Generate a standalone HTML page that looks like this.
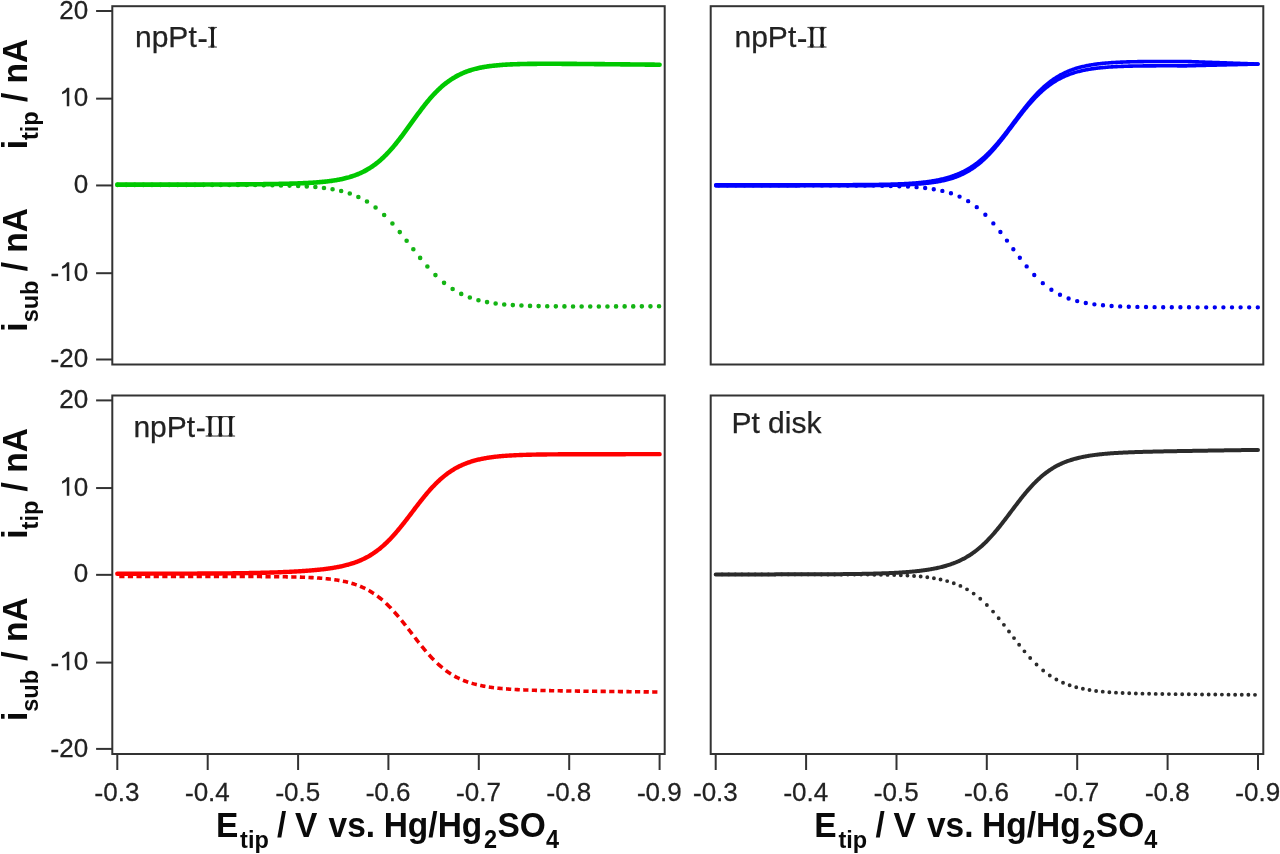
<!DOCTYPE html><html><head><meta charset="utf-8"><style>html,body{margin:0;padding:0;background:#fff;width:1280px;height:854px;overflow:hidden}svg{display:block;filter:blur(0.4px)}text{font-family:"Liberation Sans",sans-serif;stroke:#222;stroke-width:0.25px}g.b text{stroke:none}</style></head><body>
<svg width="1280" height="854" viewBox="0 0 1280 854">
<rect width="1280" height="854" fill="#fff"/>
<path d="M659.04,306.32h0 M650.44,306.34h0 M641.84,306.36h0 M633.24,306.38h0 M624.64,306.40h0 M616.04,306.42h0 M607.44,306.43h0 M598.84,306.44h0 M590.24,306.45h0 M581.64,306.44h0 M573.04,306.43h0 M564.44,306.39h0 M555.84,306.34h0 M547.24,306.24h0 M538.64,306.10h0 M530.04,305.88h0 M521.44,305.57h0 M512.84,305.10h0 M504.24,304.43h0 M495.64,303.47h0 M487.04,302.11h0 M478.44,300.20h0 M469.84,297.53h0 M461.24,293.90h0 M452.64,289.07h0 M444.04,282.84h0 M435.44,275.09h0 M427.38,266.50h0 M420.15,257.90h0 M413.34,249.30h0 M406.64,240.70h0 M399.77,232.10h0 M392.42,223.50h0 M384.17,214.95h0 M375.57,207.50h0 M366.97,201.56h0 M358.37,196.99h0 M349.77,193.57h0 M341.17,191.06h0 M332.57,189.25h0 M323.97,187.95h0 M315.37,187.03h0 M306.77,186.39h0 M298.17,185.93h0 M289.57,185.61h0 M280.97,185.39h0 M272.37,185.23h0 M263.77,185.13h0 M255.17,185.05h0 M246.57,185.00h0 M237.97,184.96h0 M229.37,184.94h0 M220.77,184.92h0 M212.17,184.91h0 M203.57,184.90h0 M194.97,184.89h0 M186.37,184.89h0 M177.77,184.88h0 M169.17,184.88h0 M160.57,184.88h0 M151.97,184.88h0 M143.37,184.88h0 M134.77,184.88h0 M126.17,184.88h0 M117.57,184.88h0" fill="none" stroke="#14b414" stroke-width="4.6" stroke-linecap="round"/>
<path d="M117.30,184.65 L118.20,184.65 L119.11,184.65 L120.01,184.65 L120.92,184.65 L121.82,184.65 L122.72,184.65 L123.63,184.65 L124.53,184.65 L125.43,184.65 L126.34,184.65 L127.24,184.65 L128.15,184.65 L129.05,184.65 L129.95,184.65 L130.86,184.65 L131.76,184.65 L132.66,184.65 L133.57,184.65 L134.47,184.65 L135.38,184.65 L136.28,184.65 L137.18,184.65 L138.09,184.65 L138.99,184.65 L139.90,184.65 L140.80,184.65 L141.70,184.65 L142.61,184.65 L143.51,184.65 L144.41,184.64 L145.32,184.64 L146.22,184.64 L147.13,184.64 L148.03,184.64 L148.93,184.64 L149.84,184.64 L150.74,184.64 L151.64,184.64 L152.55,184.64 L153.45,184.64 L154.36,184.64 L155.26,184.64 L156.16,184.64 L157.07,184.64 L157.97,184.64 L158.87,184.64 L159.78,184.64 L160.68,184.64 L161.59,184.63 L162.49,184.63 L163.39,184.63 L164.30,184.63 L165.20,184.63 L166.11,184.63 L167.01,184.63 L167.91,184.63 L168.82,184.63 L169.72,184.63 L170.62,184.63 L171.53,184.63 L172.43,184.63 L173.34,184.62 L174.24,184.62 L175.14,184.62 L176.05,184.62 L176.95,184.62 L177.85,184.62 L178.76,184.62 L179.66,184.62 L180.57,184.62 L181.47,184.61 L182.37,184.61 L183.28,184.61 L184.18,184.61 L185.09,184.61 L185.99,184.61 L186.89,184.61 L187.80,184.60 L188.70,184.60 L189.60,184.60 L190.51,184.60 L191.41,184.60 L192.32,184.60 L193.22,184.59 L194.12,184.59 L195.03,184.59 L195.93,184.59 L196.83,184.59 L197.74,184.58 L198.64,184.58 L199.55,184.58 L200.45,184.58 L201.35,184.58 L202.26,184.57 L203.16,184.57 L204.06,184.57 L204.97,184.57 L205.87,184.56 L206.78,184.56 L207.68,184.56 L208.58,184.56 L209.49,184.55 L210.39,184.55 L211.30,184.55 L212.20,184.54 L213.10,184.54 L214.01,184.54 L214.91,184.53 L215.81,184.53 L216.72,184.53 L217.62,184.52 L218.53,184.52 L219.43,184.52 L220.33,184.51 L221.24,184.51 L222.14,184.50 L223.04,184.50 L223.95,184.50 L224.85,184.49 L225.76,184.49 L226.66,184.48 L227.56,184.48 L228.47,184.47 L229.37,184.47 L230.28,184.46 L231.18,184.46 L232.08,184.45 L232.99,184.45 L233.89,184.44 L234.79,184.44 L235.70,184.43 L236.60,184.42 L237.51,184.42 L238.41,184.41 L239.31,184.40 L240.22,184.40 L241.12,184.39 L242.02,184.38 L242.93,184.38 L243.83,184.37 L244.74,184.36 L245.64,184.36 L246.54,184.35 L247.45,184.34 L248.35,184.33 L249.25,184.32 L250.16,184.32 L251.06,184.31 L251.97,184.30 L252.87,184.29 L253.77,184.28 L254.68,184.27 L255.58,184.26 L256.49,184.25 L257.39,184.24 L258.29,184.23 L259.20,184.22 L260.10,184.21 L261.00,184.20 L261.91,184.19 L262.81,184.18 L263.72,184.16 L264.62,184.15 L265.52,184.14 L266.43,184.13 L267.33,184.11 L268.23,184.10 L269.14,184.09 L270.04,184.07 L270.95,184.06 L271.85,184.04 L272.75,184.03 L273.66,184.01 L274.56,184.00 L275.46,183.98 L276.37,183.97 L277.27,183.95 L278.18,183.93 L279.08,183.91 L279.98,183.89 L280.89,183.88 L281.79,183.86 L282.70,183.84 L283.60,183.82 L284.50,183.80 L285.41,183.77 L286.31,183.75 L287.21,183.73 L288.12,183.71 L289.02,183.68 L289.93,183.66 L290.83,183.63 L291.73,183.60 L292.64,183.58 L293.54,183.55 L294.44,183.52 L295.35,183.49 L296.25,183.46 L297.16,183.43 L298.06,183.39 L298.96,183.36 L299.87,183.33 L300.77,183.29 L301.68,183.25 L302.58,183.21 L303.48,183.17 L304.39,183.13 L305.29,183.09 L306.19,183.04 L307.10,183.00 L308.00,182.95 L308.91,182.90 L309.81,182.85 L310.71,182.80 L311.62,182.74 L312.52,182.69 L313.42,182.63 L314.33,182.57 L315.23,182.50 L316.14,182.44 L317.04,182.37 L317.94,182.30 L318.85,182.23 L319.75,182.15 L320.66,182.07 L321.56,181.99 L322.46,181.90 L323.37,181.82 L324.27,181.72 L325.17,181.63 L326.08,181.53 L326.98,181.43 L327.89,181.32 L328.79,181.21 L329.69,181.09 L330.60,180.98 L331.50,180.85 L332.40,180.72 L333.31,180.59 L334.21,180.45 L335.12,180.31 L336.02,180.16 L336.92,180.00 L337.83,179.84 L338.73,179.67 L339.63,179.50 L340.54,179.32 L341.44,179.13 L342.35,178.93 L343.25,178.73 L344.15,178.52 L345.06,178.30 L345.96,178.08 L346.87,177.84 L347.77,177.60 L348.67,177.35 L349.58,177.09 L350.48,176.81 L351.38,176.53 L352.29,176.24 L353.19,175.94 L354.10,175.62 L355.00,175.30 L355.90,174.96 L356.81,174.61 L357.71,174.25 L358.61,173.88 L359.52,173.49 L360.42,173.09 L361.33,172.68 L362.23,172.25 L363.13,171.80 L364.04,171.35 L364.94,170.87 L365.84,170.38 L366.75,169.88 L367.65,169.36 L368.56,168.82 L369.46,168.27 L370.36,167.69 L371.27,167.10 L372.17,166.50 L373.08,165.87 L373.98,165.23 L374.88,164.56 L375.79,163.88 L376.69,163.18 L377.59,162.46 L378.50,161.72 L379.40,160.96 L380.31,160.18 L381.21,159.38 L382.11,158.56 L383.02,157.72 L383.92,156.86 L384.82,155.98 L385.73,155.08 L386.63,154.16 L387.54,153.22 L388.44,152.26 L389.34,151.28 L390.25,150.29 L391.15,149.27 L392.06,148.24 L392.96,147.18 L393.86,146.12 L394.77,145.03 L395.67,143.93 L396.57,142.81 L397.48,141.68 L398.38,140.53 L399.29,139.37 L400.19,138.20 L401.09,137.01 L402.00,135.81 L402.90,134.61 L403.80,133.39 L404.71,132.16 L405.61,130.93 L406.52,129.69 L407.42,128.45 L408.32,127.20 L409.23,125.95 L410.13,124.69 L411.04,123.44 L411.94,122.18 L412.84,120.93 L413.75,119.67 L414.65,118.42 L415.55,117.18 L416.46,115.94 L417.36,114.71 L418.27,113.48 L419.17,112.26 L420.07,111.05 L420.98,109.85 L421.88,108.66 L422.78,107.49 L423.69,106.33 L424.59,105.18 L425.50,104.04 L426.40,102.92 L427.30,101.81 L428.21,100.73 L429.11,99.65 L430.01,98.60 L430.92,97.56 L431.82,96.54 L432.73,95.54 L433.63,94.56 L434.53,93.60 L435.44,92.66 L436.34,91.73 L437.25,90.83 L438.15,89.95 L439.05,89.08 L439.96,88.24 L440.86,87.42 L441.76,86.61 L442.67,85.83 L443.57,85.07 L444.48,84.32 L445.38,83.60 L446.28,82.90 L447.19,82.21 L448.09,81.55 L448.99,80.90 L449.90,80.27 L450.80,79.66 L451.71,79.07 L452.61,78.49 L453.51,77.94 L454.42,77.40 L455.32,76.87 L456.23,76.37 L457.13,75.88 L458.03,75.40 L458.94,74.94 L459.84,74.50 L460.74,74.07 L461.65,73.65 L462.55,73.25 L463.46,72.86 L464.36,72.49 L465.26,72.12 L466.17,71.77 L467.07,71.44 L467.97,71.11 L468.88,70.80 L469.78,70.49 L470.69,70.20 L471.59,69.92 L472.49,69.65 L473.40,69.39 L474.30,69.14 L475.20,68.89 L476.11,68.66 L477.01,68.43 L477.92,68.22 L478.82,68.01 L479.72,67.81 L480.63,67.63 L481.53,67.45 L482.44,67.28 L483.34,67.12 L484.24,66.96 L485.15,66.81 L486.05,66.67 L486.95,66.53 L487.86,66.40 L488.76,66.27 L489.67,66.15 L490.57,66.03 L491.47,65.92 L492.38,65.81 L493.28,65.71 L494.18,65.61 L495.09,65.52 L495.99,65.43 L496.90,65.34 L497.80,65.26 L498.70,65.18 L499.61,65.10 L500.51,65.03 L501.42,64.96 L502.32,64.90 L503.22,64.83 L504.13,64.77 L505.03,64.71 L505.93,64.66 L506.84,64.61 L507.74,64.56 L508.65,64.51 L509.55,64.47 L510.45,64.42 L511.36,64.38 L512.26,64.34 L513.16,64.31 L514.07,64.27 L514.97,64.24 L515.88,64.21 L516.78,64.18 L517.68,64.15 L518.59,64.12 L519.49,64.10 L520.39,64.07 L521.30,64.05 L522.20,64.03 L523.11,64.01 L524.01,63.99 L524.91,63.97 L525.82,63.95 L526.72,63.94 L527.63,63.92 L528.53,63.91 L529.43,63.90 L530.34,63.89 L531.24,63.88 L532.14,63.86 L533.05,63.86 L533.95,63.85 L534.86,63.84 L535.76,63.83 L536.66,63.83 L537.57,63.82 L538.47,63.81 L539.37,63.81 L540.28,63.81 L541.18,63.80 L542.09,63.80 L542.99,63.80 L543.89,63.79 L544.80,63.79 L545.70,63.79 L546.61,63.79 L547.51,63.79 L548.41,63.79 L549.32,63.79 L550.22,63.79 L551.12,63.79 L552.03,63.79 L552.93,63.80 L553.84,63.80 L554.74,63.80 L555.64,63.80 L556.55,63.81 L557.45,63.81 L558.35,63.81 L559.26,63.82 L560.16,63.82 L561.07,63.82 L561.97,63.83 L562.87,63.83 L563.78,63.84 L564.68,63.84 L565.58,63.85 L566.49,63.85 L567.39,63.86 L568.30,63.87 L569.20,63.87 L570.10,63.88 L571.01,63.88 L571.91,63.89 L572.82,63.90 L573.72,63.90 L574.62,63.91 L575.53,63.92 L576.43,63.92 L577.33,63.93 L578.24,63.94 L579.14,63.94 L580.05,63.95 L580.95,63.96 L581.85,63.97 L582.76,63.97 L583.66,63.98 L584.56,63.99 L585.47,64.00 L586.37,64.00 L587.28,64.01 L588.18,64.02 L589.08,64.03 L589.99,64.03 L590.89,64.04 L591.80,64.05 L592.70,64.06 L593.60,64.07 L594.51,64.08 L595.41,64.08 L596.31,64.09 L597.22,64.10 L598.12,64.11 L599.03,64.12 L599.93,64.13 L600.83,64.13 L601.74,64.14 L602.64,64.15 L603.54,64.16 L604.45,64.17 L605.35,64.18 L606.26,64.19 L607.16,64.20 L608.06,64.20 L608.97,64.21 L609.87,64.22 L610.77,64.23 L611.68,64.24 L612.58,64.25 L613.49,64.26 L614.39,64.27 L615.29,64.27 L616.20,64.28 L617.10,64.29 L618.01,64.30 L618.91,64.31 L619.81,64.32 L620.72,64.33 L621.62,64.34 L622.52,64.35 L623.43,64.36 L624.33,64.37 L625.24,64.37 L626.14,64.38 L627.04,64.39 L627.95,64.40 L628.85,64.41 L629.75,64.42 L630.66,64.43 L631.56,64.44 L632.47,64.45 L633.37,64.46 L634.27,64.47 L635.18,64.48 L636.08,64.48 L636.98,64.49 L637.89,64.50 L638.79,64.51 L639.70,64.52 L640.60,64.53 L641.50,64.54 L642.41,64.55 L643.31,64.56 L644.22,64.57 L645.12,64.58 L646.02,64.59 L646.93,64.60 L647.83,64.60 L648.73,64.61 L649.64,64.62 L650.54,64.63 L651.45,64.64 L652.35,64.65 L653.25,64.66 L654.16,64.67 L655.06,64.68 L655.96,64.69 L656.87,64.70 L657.77,64.71 L658.68,64.72 L659.58,64.73" fill="none" stroke="#00c800" stroke-width="4.6" stroke-linecap="round" stroke-linejoin="round"/>
<path d="M1257.80,307.36h0 M1249.20,307.36h0 M1240.60,307.36h0 M1232.00,307.35h0 M1223.40,307.35h0 M1214.80,307.35h0 M1206.20,307.34h0 M1197.60,307.33h0 M1189.00,307.31h0 M1180.40,307.29h0 M1171.80,307.26h0 M1163.20,307.21h0 M1154.60,307.15h0 M1146.00,307.05h0 M1137.40,306.90h0 M1128.80,306.69h0 M1120.20,306.39h0 M1111.60,305.94h0 M1103.00,305.29h0 M1094.40,304.36h0 M1085.80,303.02h0 M1077.20,301.11h0 M1068.60,298.43h0 M1060.00,294.72h0 M1051.40,289.71h0 M1042.80,283.16h0 M1034.26,274.99h0 M1026.66,266.39h0 M1019.82,257.79h0 M1013.35,249.19h0 M1006.96,240.59h0 M1000.40,231.99h0 M993.35,223.39h0 M985.36,214.80h0 M976.76,207.14h0 M968.16,201.14h0 M959.56,196.60h0 M950.96,193.27h0 M942.36,190.88h0 M933.76,189.18h0 M925.16,188.00h0 M916.56,187.17h0 M907.96,186.60h0 M899.36,186.21h0 M890.76,185.94h0 M882.16,185.75h0 M873.56,185.62h0 M864.96,185.54h0 M856.36,185.48h0 M847.76,185.44h0 M839.16,185.41h0 M830.56,185.39h0 M821.96,185.38h0 M813.36,185.37h0 M804.76,185.36h0 M796.16,185.36h0 M787.56,185.36h0 M778.96,185.35h0 M770.36,185.35h0 M761.76,185.35h0 M753.16,185.35h0 M744.56,185.35h0 M735.96,185.35h0 M727.36,185.35h0 M718.76,185.35h0" fill="none" stroke="#0000f0" stroke-width="4.4" stroke-linecap="round"/>
<path d="M715.70,184.79 L716.60,184.79 L717.51,184.79 L718.41,184.79 L719.32,184.79 L720.22,184.79 L721.12,184.79 L722.03,184.79 L722.93,184.79 L723.83,184.79 L724.74,184.79 L725.64,184.79 L726.55,184.79 L727.45,184.79 L728.35,184.79 L729.26,184.79 L730.16,184.79 L731.06,184.79 L731.97,184.79 L732.87,184.79 L733.78,184.79 L734.68,184.79 L735.58,184.79 L736.49,184.79 L737.39,184.79 L738.29,184.79 L739.20,184.79 L740.10,184.79 L741.01,184.79 L741.91,184.79 L742.81,184.79 L743.72,184.79 L744.62,184.79 L745.53,184.79 L746.43,184.79 L747.33,184.79 L748.24,184.79 L749.14,184.79 L750.04,184.79 L750.95,184.79 L751.85,184.79 L752.76,184.79 L753.66,184.79 L754.56,184.79 L755.47,184.79 L756.37,184.79 L757.27,184.79 L758.18,184.79 L759.08,184.79 L759.99,184.79 L760.89,184.79 L761.79,184.79 L762.70,184.79 L763.60,184.79 L764.51,184.79 L765.41,184.79 L766.31,184.79 L767.22,184.79 L768.12,184.79 L769.02,184.79 L769.93,184.79 L770.83,184.79 L771.74,184.79 L772.64,184.79 L773.54,184.79 L774.45,184.79 L775.35,184.79 L776.25,184.79 L777.16,184.79 L778.06,184.79 L778.97,184.79 L779.87,184.79 L780.77,184.79 L781.68,184.79 L782.58,184.79 L783.49,184.79 L784.39,184.78 L785.29,184.78 L786.20,184.78 L787.10,184.78 L788.00,184.78 L788.91,184.78 L789.81,184.78 L790.72,184.78 L791.62,184.78 L792.52,184.78 L793.43,184.78 L794.33,184.78 L795.23,184.78 L796.14,184.78 L797.04,184.78 L797.95,184.78 L798.85,184.78 L799.75,184.78 L800.66,184.78 L801.56,184.78 L802.46,184.78 L803.37,184.78 L804.27,184.78 L805.18,184.78 L806.08,184.78 L806.98,184.78 L807.89,184.77 L808.79,184.77 L809.70,184.77 L810.60,184.77 L811.50,184.77 L812.41,184.77 L813.31,184.77 L814.21,184.77 L815.12,184.77 L816.02,184.77 L816.93,184.77 L817.83,184.77 L818.73,184.76 L819.64,184.76 L820.54,184.76 L821.44,184.76 L822.35,184.76 L823.25,184.76 L824.16,184.76 L825.06,184.76 L825.96,184.75 L826.87,184.75 L827.77,184.75 L828.67,184.75 L829.58,184.75 L830.48,184.75 L831.39,184.75 L832.29,184.74 L833.19,184.74 L834.10,184.74 L835.00,184.74 L835.91,184.74 L836.81,184.73 L837.71,184.73 L838.62,184.73 L839.52,184.73 L840.42,184.72 L841.33,184.72 L842.23,184.72 L843.14,184.71 L844.04,184.71 L844.94,184.71 L845.85,184.70 L846.75,184.70 L847.65,184.70 L848.56,184.69 L849.46,184.69 L850.37,184.69 L851.27,184.68 L852.17,184.68 L853.08,184.67 L853.98,184.67 L854.89,184.66 L855.79,184.66 L856.69,184.65 L857.60,184.65 L858.50,184.64 L859.40,184.63 L860.31,184.63 L861.21,184.62 L862.12,184.61 L863.02,184.61 L863.92,184.60 L864.83,184.59 L865.73,184.58 L866.63,184.57 L867.54,184.57 L868.44,184.56 L869.35,184.55 L870.25,184.54 L871.15,184.53 L872.06,184.52 L872.96,184.51 L873.87,184.49 L874.77,184.48 L875.67,184.47 L876.58,184.46 L877.48,184.44 L878.38,184.43 L879.29,184.41 L880.19,184.40 L881.10,184.38 L882.00,184.36 L882.90,184.35 L883.81,184.33 L884.71,184.31 L885.61,184.29 L886.52,184.27 L887.42,184.25 L888.33,184.23 L889.23,184.20 L890.13,184.18 L891.04,184.15 L891.94,184.13 L892.84,184.10 L893.75,184.07 L894.65,184.04 L895.56,184.01 L896.46,183.98 L897.36,183.95 L898.27,183.91 L899.17,183.88 L900.08,183.84 L900.98,183.80 L901.88,183.76 L902.79,183.72 L903.69,183.68 L904.59,183.63 L905.50,183.59 L906.40,183.54 L907.31,183.49 L908.21,183.43 L909.11,183.38 L910.02,183.32 L910.92,183.26 L911.82,183.20 L912.73,183.14 L913.63,183.07 L914.54,183.00 L915.44,182.93 L916.34,182.85 L917.25,182.77 L918.15,182.69 L919.06,182.61 L919.96,182.52 L920.86,182.43 L921.77,182.34 L922.67,182.24 L923.57,182.14 L924.48,182.04 L925.38,181.93 L926.29,181.81 L927.19,181.70 L928.09,181.58 L929.00,181.45 L929.90,181.32 L930.80,181.18 L931.71,181.04 L932.61,180.90 L933.52,180.75 L934.42,180.59 L935.32,180.43 L936.23,180.26 L937.13,180.09 L938.03,179.91 L938.94,179.72 L939.84,179.53 L940.75,179.33 L941.65,179.12 L942.55,178.91 L943.46,178.69 L944.36,178.46 L945.27,178.22 L946.17,177.98 L947.07,177.73 L947.98,177.47 L948.88,177.20 L949.78,176.92 L950.69,176.63 L951.59,176.33 L952.50,176.03 L953.40,175.71 L954.30,175.39 L955.21,175.05 L956.11,174.70 L957.01,174.34 L957.92,173.97 L958.82,173.59 L959.73,173.20 L960.63,172.79 L961.53,172.37 L962.44,171.94 L963.34,171.50 L964.24,171.04 L965.15,170.57 L966.05,170.09 L966.96,169.59 L967.86,169.08 L968.76,168.55 L969.67,168.00 L970.57,167.45 L971.48,166.87 L972.38,166.28 L973.28,165.68 L974.19,165.06 L975.09,164.42 L975.99,163.76 L976.90,163.09 L977.80,162.40 L978.71,161.69 L979.61,160.97 L980.51,160.23 L981.42,159.47 L982.32,158.69 L983.22,157.89 L984.13,157.08 L985.03,156.25 L985.94,155.40 L986.84,154.53 L987.74,153.65 L988.65,152.75 L989.55,151.83 L990.46,150.89 L991.36,149.94 L992.26,148.96 L993.17,147.98 L994.07,146.97 L994.97,145.95 L995.88,144.92 L996.78,143.87 L997.69,142.81 L998.59,141.73 L999.49,140.64 L1000.40,139.53 L1001.30,138.41 L1002.20,137.29 L1003.11,136.15 L1004.01,135.00 L1004.92,133.84 L1005.82,132.67 L1006.72,131.49 L1007.63,130.31 L1008.53,129.12 L1009.43,127.93 L1010.34,126.73 L1011.24,125.53 L1012.15,124.32 L1013.05,123.12 L1013.95,121.91 L1014.86,120.70 L1015.76,119.50 L1016.67,118.29 L1017.57,117.09 L1018.47,115.90 L1019.38,114.70 L1020.28,113.52 L1021.18,112.34 L1022.09,111.16 L1022.99,110.00 L1023.90,108.84 L1024.80,107.70 L1025.70,106.56 L1026.61,105.44 L1027.51,104.33 L1028.41,103.23 L1029.32,102.14 L1030.22,101.07 L1031.13,100.01 L1032.03,98.97 L1032.93,97.94 L1033.84,96.93 L1034.74,95.93 L1035.65,94.95 L1036.55,93.99 L1037.45,93.04 L1038.36,92.11 L1039.26,91.20 L1040.16,90.31 L1041.07,89.44 L1041.97,88.58 L1042.88,87.74 L1043.78,86.92 L1044.68,86.12 L1045.59,85.34 L1046.49,84.57 L1047.39,83.82 L1048.30,83.09 L1049.20,82.38 L1050.11,81.69 L1051.01,81.01 L1051.91,80.36 L1052.82,79.72 L1053.72,79.09 L1054.62,78.49 L1055.53,77.90 L1056.43,77.32 L1057.34,76.77 L1058.24,76.23 L1059.14,75.70 L1060.05,75.19 L1060.95,74.70 L1061.86,74.22 L1062.76,73.75 L1063.66,73.30 L1064.57,72.86 L1065.47,72.44 L1066.37,72.03 L1067.28,71.63 L1068.18,71.24 L1069.09,70.87 L1069.99,70.51 L1070.89,70.16 L1071.80,69.82 L1072.70,69.50 L1073.60,69.18 L1074.51,68.88 L1075.41,68.58 L1076.32,68.30 L1077.22,68.02 L1078.12,67.76 L1079.03,67.51 L1079.93,67.26 L1080.84,67.03 L1081.74,66.81 L1082.64,66.59 L1083.55,66.38 L1084.45,66.18 L1085.35,65.98 L1086.26,65.80 L1087.16,65.62 L1088.07,65.44 L1088.97,65.28 L1089.87,65.11 L1090.78,64.96 L1091.68,64.81 L1092.58,64.67 L1093.49,64.53 L1094.39,64.39 L1095.30,64.27 L1096.20,64.14 L1097.10,64.02 L1098.01,63.91 L1098.91,63.80 L1099.82,63.70 L1100.72,63.60 L1101.62,63.50 L1102.53,63.40 L1103.43,63.31 L1104.33,63.23 L1105.24,63.15 L1106.14,63.07 L1107.05,62.99 L1107.95,62.92 L1108.85,62.85 L1109.76,62.78 L1110.66,62.71 L1111.56,62.65 L1112.47,62.59 L1113.37,62.54 L1114.28,62.48 L1115.18,62.43 L1116.08,62.38 L1116.99,62.33 L1117.89,62.28 L1118.79,62.24 L1119.70,62.20 L1120.60,62.16 L1121.51,62.12 L1122.41,62.08 L1123.31,62.05 L1124.22,62.01 L1125.12,61.98 L1126.03,61.95 L1126.93,61.92 L1127.83,61.89 L1128.74,61.87 L1129.64,61.84 L1130.54,61.82 L1131.45,61.79 L1132.35,61.77 L1133.26,61.75 L1134.16,61.73 L1135.06,61.71 L1135.97,61.69 L1136.87,61.68 L1137.77,61.66 L1138.68,61.64 L1139.58,61.63 L1140.49,61.62 L1141.39,61.60 L1142.29,61.59 L1143.20,61.58 L1144.10,61.57 L1145.01,61.56 L1145.91,61.55 L1146.81,61.54 L1147.72,61.53 L1148.62,61.52 L1149.52,61.52 L1150.43,61.51 L1151.33,61.50 L1152.24,61.50 L1153.14,61.49 L1154.04,61.49 L1154.95,61.48 L1155.85,61.48 L1156.75,61.47 L1157.66,61.47 L1158.56,61.47 L1159.47,61.46 L1160.37,61.46 L1161.27,61.46 L1162.18,61.46 L1163.08,61.46 L1163.98,61.45 L1164.89,61.45 L1165.79,61.45 L1166.70,61.45 L1167.60,61.45 L1168.50,61.45 L1169.41,61.45 L1170.31,61.45 L1171.22,61.45 L1172.12,61.45 L1173.02,61.46 L1173.93,61.46 L1174.83,61.46 L1175.73,61.46 L1176.64,61.46 L1177.54,61.46 L1178.45,61.47 L1179.35,61.47 L1180.25,61.47 L1181.16,61.47 L1182.06,61.48 L1182.96,61.48 L1183.87,61.48 L1184.77,61.48 L1185.68,61.49 L1186.58,61.52 L1187.48,61.55 L1188.39,61.58 L1189.29,61.61 L1190.20,61.64 L1191.10,61.67 L1192.00,61.70 L1192.91,61.73 L1193.81,61.76 L1194.71,61.80 L1195.62,61.83 L1196.52,61.86 L1197.43,61.89 L1198.33,61.92 L1199.23,61.95 L1200.14,61.98 L1201.04,62.02 L1201.94,62.05 L1202.85,62.08 L1203.75,62.11 L1204.66,62.14 L1205.56,62.18 L1206.46,62.21 L1207.37,62.24 L1208.27,62.27 L1209.17,62.30 L1210.08,62.34 L1210.98,62.37 L1211.89,62.40 L1212.79,62.43 L1213.69,62.46 L1214.60,62.50 L1215.50,62.53 L1216.41,62.56 L1217.31,62.59 L1218.21,62.63 L1219.12,62.66 L1220.02,62.69 L1220.92,62.72 L1221.83,62.76 L1222.73,62.79 L1223.64,62.82 L1224.54,62.85 L1225.44,62.89 L1226.35,62.92 L1227.25,62.95 L1228.15,62.98 L1229.06,63.02 L1229.96,63.05 L1230.87,63.08 L1231.77,63.12 L1232.67,63.15 L1233.58,63.18 L1234.48,63.21 L1235.38,63.25 L1236.29,63.28 L1237.19,63.31 L1238.10,63.34 L1239.00,63.38 L1239.90,63.41 L1240.81,63.44 L1241.71,63.48 L1242.62,63.51 L1243.52,63.54 L1244.42,63.57 L1245.33,63.61 L1246.23,63.64 L1247.13,63.67 L1248.04,63.71 L1248.94,63.74 L1249.85,63.77 L1250.75,63.80 L1251.65,63.84 L1252.56,63.87 L1253.46,63.90 L1254.36,63.94 L1255.27,63.97 L1256.17,64.00 L1257.08,64.04 L1257.98,64.07" fill="none" stroke="#0000ff" stroke-width="3.6" stroke-linecap="round" stroke-linejoin="round"/>
<path d="M715.70,185.84 L716.60,185.84 L717.51,185.84 L718.41,185.84 L719.32,185.84 L720.22,185.84 L721.12,185.84 L722.03,185.84 L722.93,185.84 L723.83,185.84 L724.74,185.84 L725.64,185.84 L726.55,185.84 L727.45,185.84 L728.35,185.84 L729.26,185.84 L730.16,185.84 L731.06,185.84 L731.97,185.84 L732.87,185.84 L733.78,185.84 L734.68,185.84 L735.58,185.84 L736.49,185.84 L737.39,185.84 L738.29,185.84 L739.20,185.84 L740.10,185.84 L741.01,185.84 L741.91,185.84 L742.81,185.84 L743.72,185.84 L744.62,185.84 L745.53,185.84 L746.43,185.84 L747.33,185.84 L748.24,185.84 L749.14,185.84 L750.04,185.84 L750.95,185.84 L751.85,185.84 L752.76,185.83 L753.66,185.83 L754.56,185.83 L755.47,185.83 L756.37,185.83 L757.27,185.83 L758.18,185.83 L759.08,185.83 L759.99,185.83 L760.89,185.83 L761.79,185.83 L762.70,185.83 L763.60,185.83 L764.51,185.83 L765.41,185.83 L766.31,185.83 L767.22,185.83 L768.12,185.83 L769.02,185.83 L769.93,185.83 L770.83,185.83 L771.74,185.83 L772.64,185.83 L773.54,185.83 L774.45,185.83 L775.35,185.83 L776.25,185.83 L777.16,185.83 L778.06,185.83 L778.97,185.83 L779.87,185.83 L780.77,185.83 L781.68,185.83 L782.58,185.83 L783.49,185.83 L784.39,185.83 L785.29,185.83 L786.20,185.83 L787.10,185.83 L788.00,185.83 L788.91,185.83 L789.81,185.83 L790.72,185.83 L791.62,185.83 L792.52,185.83 L793.43,185.83 L794.33,185.83 L795.23,185.83 L796.14,185.83 L797.04,185.83 L797.95,185.83 L798.85,185.83 L799.75,185.83 L800.66,185.82 L801.56,185.82 L802.46,185.82 L803.37,185.82 L804.27,185.82 L805.18,185.82 L806.08,185.82 L806.98,185.82 L807.89,185.82 L808.79,185.82 L809.70,185.82 L810.60,185.82 L811.50,185.82 L812.41,185.82 L813.31,185.82 L814.21,185.82 L815.12,185.81 L816.02,185.81 L816.93,185.81 L817.83,185.81 L818.73,185.81 L819.64,185.81 L820.54,185.81 L821.44,185.81 L822.35,185.81 L823.25,185.81 L824.16,185.80 L825.06,185.80 L825.96,185.80 L826.87,185.80 L827.77,185.80 L828.67,185.80 L829.58,185.80 L830.48,185.79 L831.39,185.79 L832.29,185.79 L833.19,185.79 L834.10,185.79 L835.00,185.78 L835.91,185.78 L836.81,185.78 L837.71,185.78 L838.62,185.78 L839.52,185.77 L840.42,185.77 L841.33,185.77 L842.23,185.77 L843.14,185.76 L844.04,185.76 L844.94,185.76 L845.85,185.75 L846.75,185.75 L847.65,185.75 L848.56,185.74 L849.46,185.74 L850.37,185.74 L851.27,185.73 L852.17,185.73 L853.08,185.72 L853.98,185.72 L854.89,185.71 L855.79,185.71 L856.69,185.71 L857.60,185.70 L858.50,185.69 L859.40,185.69 L860.31,185.68 L861.21,185.68 L862.12,185.67 L863.02,185.66 L863.92,185.66 L864.83,185.65 L865.73,185.64 L866.63,185.64 L867.54,185.63 L868.44,185.62 L869.35,185.61 L870.25,185.60 L871.15,185.59 L872.06,185.58 L872.96,185.57 L873.87,185.56 L874.77,185.55 L875.67,185.54 L876.58,185.53 L877.48,185.52 L878.38,185.51 L879.29,185.49 L880.19,185.48 L881.10,185.47 L882.00,185.45 L882.90,185.44 L883.81,185.42 L884.71,185.40 L885.61,185.39 L886.52,185.37 L887.42,185.35 L888.33,185.33 L889.23,185.31 L890.13,185.29 L891.04,185.27 L891.94,185.25 L892.84,185.23 L893.75,185.20 L894.65,185.18 L895.56,185.15 L896.46,185.13 L897.36,185.10 L898.27,185.07 L899.17,185.04 L900.08,185.01 L900.98,184.98 L901.88,184.94 L902.79,184.91 L903.69,184.87 L904.59,184.83 L905.50,184.79 L906.40,184.75 L907.31,184.71 L908.21,184.67 L909.11,184.62 L910.02,184.58 L910.92,184.53 L911.82,184.48 L912.73,184.42 L913.63,184.37 L914.54,184.31 L915.44,184.25 L916.34,184.19 L917.25,184.13 L918.15,184.06 L919.06,183.99 L919.96,183.92 L920.86,183.84 L921.77,183.77 L922.67,183.69 L923.57,183.60 L924.48,183.52 L925.38,183.42 L926.29,183.33 L927.19,183.23 L928.09,183.13 L929.00,183.03 L929.90,182.92 L930.80,182.80 L931.71,182.68 L932.61,182.56 L933.52,182.43 L934.42,182.30 L935.32,182.16 L936.23,182.01 L937.13,181.87 L938.03,181.71 L938.94,181.55 L939.84,181.38 L940.75,181.20 L941.65,181.02 L942.55,180.83 L943.46,180.64 L944.36,180.43 L945.27,180.22 L946.17,180.00 L947.07,179.77 L947.98,179.54 L948.88,179.29 L949.78,179.04 L950.69,178.77 L951.59,178.50 L952.50,178.21 L953.40,177.92 L954.30,177.61 L955.21,177.29 L956.11,176.96 L957.01,176.62 L957.92,176.27 L958.82,175.90 L959.73,175.52 L960.63,175.13 L961.53,174.72 L962.44,174.30 L963.34,173.87 L964.24,173.42 L965.15,172.95 L966.05,172.48 L966.96,171.98 L967.86,171.47 L968.76,170.95 L969.67,170.40 L970.57,169.84 L971.48,169.27 L972.38,168.67 L973.28,168.06 L974.19,167.44 L975.09,166.79 L975.99,166.13 L976.90,165.44 L977.80,164.74 L978.71,164.03 L979.61,163.29 L980.51,162.53 L981.42,161.76 L982.32,160.97 L983.22,160.16 L984.13,159.33 L985.03,158.48 L985.94,157.61 L986.84,156.73 L987.74,155.82 L988.65,154.90 L989.55,153.96 L990.46,153.01 L991.36,152.03 L992.26,151.04 L993.17,150.04 L994.07,149.01 L994.97,147.98 L995.88,146.92 L996.78,145.86 L997.69,144.77 L998.59,143.68 L999.49,142.57 L1000.40,141.45 L1001.30,140.32 L1002.20,139.18 L1003.11,138.03 L1004.01,136.87 L1004.92,135.70 L1005.82,134.53 L1006.72,133.34 L1007.63,132.16 L1008.53,130.96 L1009.43,129.77 L1010.34,128.57 L1011.24,127.37 L1012.15,126.17 L1013.05,124.96 L1013.95,123.76 L1014.86,122.56 L1015.76,121.37 L1016.67,120.17 L1017.57,118.98 L1018.47,117.80 L1019.38,116.63 L1020.28,115.46 L1021.18,114.29 L1022.09,113.14 L1022.99,112.00 L1023.90,110.87 L1024.80,109.74 L1025.70,108.63 L1026.61,107.54 L1027.51,106.45 L1028.41,105.38 L1029.32,104.33 L1030.22,103.29 L1031.13,102.26 L1032.03,101.25 L1032.93,100.25 L1033.84,99.28 L1034.74,98.31 L1035.65,97.37 L1036.55,96.44 L1037.45,95.53 L1038.36,94.64 L1039.26,93.77 L1040.16,92.91 L1041.07,92.08 L1041.97,91.26 L1042.88,90.46 L1043.78,89.67 L1044.68,88.91 L1045.59,88.16 L1046.49,87.44 L1047.39,86.73 L1048.30,86.03 L1049.20,85.36 L1050.11,84.70 L1051.01,84.06 L1051.91,83.44 L1052.82,82.83 L1053.72,82.24 L1054.62,81.67 L1055.53,81.11 L1056.43,80.57 L1057.34,80.05 L1058.24,79.54 L1059.14,79.04 L1060.05,78.57 L1060.95,78.10 L1061.86,77.65 L1062.76,77.21 L1063.66,76.79 L1064.57,76.38 L1065.47,75.98 L1066.37,75.60 L1067.28,75.22 L1068.18,74.86 L1069.09,74.51 L1069.99,74.18 L1070.89,73.85 L1071.80,73.54 L1072.70,73.23 L1073.60,72.94 L1074.51,72.65 L1075.41,72.38 L1076.32,72.11 L1077.22,71.86 L1078.12,71.62 L1079.03,71.39 L1079.93,71.16 L1080.84,70.94 L1081.74,70.74 L1082.64,70.53 L1083.55,70.34 L1084.45,70.15 L1085.35,69.97 L1086.26,69.80 L1087.16,69.63 L1088.07,69.47 L1088.97,69.31 L1089.87,69.17 L1090.78,69.02 L1091.68,68.88 L1092.58,68.75 L1093.49,68.62 L1094.39,68.50 L1095.30,68.38 L1096.20,68.27 L1097.10,68.16 L1098.01,68.05 L1098.91,67.95 L1099.82,67.85 L1100.72,67.76 L1101.62,67.67 L1102.53,67.59 L1103.43,67.50 L1104.33,67.42 L1105.24,67.35 L1106.14,67.27 L1107.05,67.20 L1107.95,67.14 L1108.85,67.07 L1109.76,67.01 L1110.66,66.95 L1111.56,66.89 L1112.47,66.84 L1113.37,66.79 L1114.28,66.74 L1115.18,66.69 L1116.08,66.64 L1116.99,66.60 L1117.89,66.56 L1118.79,66.52 L1119.70,66.48 L1120.60,66.44 L1121.51,66.40 L1122.41,66.37 L1123.31,66.34 L1124.22,66.31 L1125.12,66.28 L1126.03,66.25 L1126.93,66.22 L1127.83,66.20 L1128.74,66.17 L1129.64,66.15 L1130.54,66.13 L1131.45,66.11 L1132.35,66.09 L1133.26,66.07 L1134.16,66.05 L1135.06,66.03 L1135.97,66.02 L1136.87,66.00 L1137.77,65.99 L1138.68,65.97 L1139.58,65.96 L1140.49,65.95 L1141.39,65.94 L1142.29,65.93 L1143.20,65.92 L1144.10,65.91 L1145.01,65.90 L1145.91,65.89 L1146.81,65.88 L1147.72,65.87 L1148.62,65.87 L1149.52,65.86 L1150.43,65.85 L1151.33,65.85 L1152.24,65.84 L1153.14,65.84 L1154.04,65.83 L1154.95,65.83 L1155.85,65.83 L1156.75,65.82 L1157.66,65.82 L1158.56,65.82 L1159.47,65.82 L1160.37,65.81 L1161.27,65.81 L1162.18,65.81 L1163.08,65.81 L1163.98,65.81 L1164.89,65.81 L1165.79,65.81 L1166.70,65.81 L1167.60,65.81 L1168.50,65.81 L1169.41,65.81 L1170.31,65.81 L1171.22,65.81 L1172.12,65.81 L1173.02,65.82 L1173.93,65.82 L1174.83,65.82 L1175.73,65.82 L1176.64,65.82 L1177.54,65.83 L1178.45,65.83 L1179.35,65.83 L1180.25,65.83 L1181.16,65.84 L1182.06,65.84 L1182.96,65.84 L1183.87,65.84 L1184.77,65.85 L1185.68,65.85 L1186.58,65.83 L1187.48,65.80 L1188.39,65.78 L1189.29,65.76 L1190.20,65.73 L1191.10,65.71 L1192.00,65.69 L1192.91,65.66 L1193.81,65.64 L1194.71,65.62 L1195.62,65.59 L1196.52,65.57 L1197.43,65.55 L1198.33,65.52 L1199.23,65.50 L1200.14,65.48 L1201.04,65.46 L1201.94,65.43 L1202.85,65.41 L1203.75,65.39 L1204.66,65.37 L1205.56,65.34 L1206.46,65.32 L1207.37,65.30 L1208.27,65.28 L1209.17,65.25 L1210.08,65.23 L1210.98,65.21 L1211.89,65.19 L1212.79,65.17 L1213.69,65.14 L1214.60,65.12 L1215.50,65.10 L1216.41,65.08 L1217.31,65.06 L1218.21,65.03 L1219.12,65.01 L1220.02,64.99 L1220.92,64.97 L1221.83,64.95 L1222.73,64.92 L1223.64,64.90 L1224.54,64.88 L1225.44,64.86 L1226.35,64.84 L1227.25,64.81 L1228.15,64.79 L1229.06,64.77 L1229.96,64.75 L1230.87,64.73 L1231.77,64.71 L1232.67,64.68 L1233.58,64.66 L1234.48,64.64 L1235.38,64.62 L1236.29,64.60 L1237.19,64.58 L1238.10,64.55 L1239.00,64.53 L1239.90,64.51 L1240.81,64.49 L1241.71,64.47 L1242.62,64.45 L1243.52,64.42 L1244.42,64.40 L1245.33,64.38 L1246.23,64.36 L1247.13,64.34 L1248.04,64.32 L1248.94,64.30 L1249.85,64.27 L1250.75,64.25 L1251.65,64.23 L1252.56,64.21 L1253.46,64.19 L1254.36,64.17 L1255.27,64.14 L1256.17,64.12 L1257.08,64.10 L1257.98,64.08" fill="none" stroke="#0000ff" stroke-width="3.6" stroke-linecap="round" stroke-linejoin="round"/>
<path d="M652.21,691.92 L652.91,691.93 L653.81,691.94 L654.71,691.95 L655.61,691.96 L656.51,691.97 L657.41,691.98 M643.61,691.83 L643.91,691.84 L644.81,691.85 L645.71,691.86 L646.61,691.86 L647.51,691.87 L648.41,691.88 L648.81,691.89 M635.01,691.74 L635.81,691.75 L636.71,691.76 L637.61,691.77 L638.51,691.78 L639.41,691.79 L640.21,691.80 M626.41,691.65 L626.80,691.65 L627.70,691.66 L628.60,691.67 L629.51,691.68 L630.41,691.69 L631.31,691.70 L631.61,691.71 M617.81,691.56 L618.70,691.57 L619.60,691.58 L620.50,691.59 L621.40,691.60 L622.30,691.61 L623.01,691.61 M609.21,691.46 L609.70,691.47 L610.60,691.48 L611.50,691.49 L612.40,691.50 L613.30,691.51 L614.20,691.52 L614.41,691.52 M600.61,691.37 L600.70,691.37 L601.60,691.38 L602.50,691.39 L603.40,691.40 L604.30,691.41 L605.20,691.42 L605.81,691.43 M592.01,691.27 L592.60,691.27 L593.50,691.29 L594.40,691.30 L595.30,691.31 L596.20,691.32 L597.10,691.33 L597.21,691.33 M583.41,691.16 L583.60,691.17 L584.50,691.18 L585.40,691.19 L586.30,691.20 L587.20,691.21 L588.10,691.22 L588.61,691.23 M574.81,691.05 L575.49,691.06 L576.39,691.07 L577.29,691.09 L578.19,691.10 L579.09,691.11 L579.99,691.12 L580.01,691.12 M566.21,690.93 L566.49,690.94 L567.39,690.95 L568.29,690.96 L569.19,690.98 L570.09,690.99 L570.99,691.00 L571.41,691.01 M557.61,690.80 L558.39,690.81 L559.29,690.82 L560.19,690.84 L561.09,690.85 L561.99,690.87 L562.81,690.88 M549.01,690.64 L549.39,690.65 L550.29,690.66 L551.19,690.68 L552.09,690.70 L552.99,690.71 L553.89,690.73 L554.21,690.74 M540.41,690.45 L541.29,690.47 L542.19,690.49 L543.09,690.51 L543.99,690.53 L544.89,690.55 L545.61,690.57 M531.81,690.21 L532.29,690.22 L533.19,690.25 L534.09,690.28 L534.99,690.30 L535.89,690.33 L536.79,690.35 L537.01,690.36 M523.21,689.90 L523.28,689.90 L524.18,689.94 L525.08,689.97 L525.98,690.01 L526.88,690.04 L527.78,690.07 L528.41,690.10 M514.61,689.48 L515.18,689.51 L516.08,689.56 L516.98,689.61 L517.88,689.65 L518.78,689.70 L519.68,689.74 L519.81,689.75 M506.01,688.91 L506.18,688.92 L507.08,688.99 L507.98,689.06 L508.88,689.12 L509.78,689.18 L510.68,689.24 L511.21,689.28 M497.41,688.12 L498.08,688.19 L498.98,688.28 L499.88,688.37 L500.78,688.46 L501.68,688.54 L502.58,688.63 L502.61,688.63 M488.81,687.00 L489.08,687.04 L489.98,687.17 L490.88,687.30 L491.78,687.43 L492.68,687.55 L493.58,687.67 L494.01,687.72 M480.21,685.42 L480.97,685.58 L481.87,685.77 L482.78,685.95 L483.68,686.12 L484.58,686.29 L485.41,686.44 M471.61,683.27 L471.97,683.37 L472.87,683.63 L473.77,683.88 L474.67,684.12 L475.57,684.35 L476.47,684.57 L476.81,684.65 M463.01,680.25 L463.87,680.60 L464.77,680.95 L465.67,681.29 L466.57,681.62 L467.47,681.94 L468.21,682.19 M454.41,676.07 L454.87,676.33 L455.77,676.82 L456.67,677.30 L457.57,677.76 L458.47,678.21 L459.37,678.64 L459.61,678.75 M445.81,670.47 L445.87,670.52 L446.77,671.17 L447.67,671.82 L448.57,672.44 L449.47,673.05 L450.37,673.64 L451.01,674.04 M437.21,663.24 L437.77,663.76 L438.67,664.58 L439.57,665.39 L440.47,666.18 L441.37,666.94 L442.27,667.70 L442.41,667.81 M428.94,654.72 L429.66,655.52 L430.56,656.50 L431.46,657.47 L432.36,658.42 L433.26,659.36 L433.82,659.92 M421.65,646.12 L422.46,647.12 L423.36,648.22 L424.26,649.30 L425.16,650.37 L425.97,651.32 M414.87,637.52 L415.26,638.03 L416.16,639.19 L417.06,640.34 L417.96,641.49 L418.86,642.64 L418.93,642.72 M408.24,628.92 L408.96,629.84 L409.86,631.01 L410.76,632.18 L411.66,633.35 L412.25,634.12 M401.46,620.32 L401.76,620.69 L402.66,621.80 L403.56,622.93 L404.46,624.07 L405.36,625.21 L405.60,625.52 M394.15,611.72 L394.56,612.17 L395.46,613.18 L396.36,614.22 L397.26,615.26 L398.16,616.32 L398.66,616.92 M385.87,603.21 L386.46,603.76 L387.36,604.62 L388.26,605.51 L389.16,606.41 L390.06,607.32 L390.96,608.26 L391.01,608.32 M377.27,596.00 L377.45,596.14 L378.35,596.82 L379.25,597.51 L380.15,598.23 L381.05,598.96 L381.95,599.72 L382.47,600.16 M368.67,590.42 L369.35,590.81 L370.25,591.33 L371.15,591.88 L372.05,592.43 L372.95,593.01 L373.85,593.60 L373.87,593.61 M360.07,586.27 L360.35,586.39 L361.25,586.77 L362.15,587.16 L363.05,587.57 L363.95,587.99 L364.85,588.42 L365.27,588.63 M351.47,583.27 L352.25,583.50 L353.15,583.78 L354.05,584.07 L354.95,584.36 L355.85,584.67 L356.67,584.96 M342.87,581.15 L343.25,581.22 L344.15,581.42 L345.05,581.61 L345.95,581.82 L346.85,582.04 L347.75,582.26 L348.07,582.34 M334.27,579.66 L335.14,579.79 L336.04,579.93 L336.95,580.07 L337.85,580.22 L338.75,580.37 L339.47,580.49 M325.67,578.64 L326.14,578.69 L327.04,578.78 L327.94,578.88 L328.84,578.98 L329.74,579.08 L330.64,579.19 L330.87,579.21 M317.07,577.94 L317.14,577.95 L318.04,578.01 L318.94,578.07 L319.84,578.14 L320.74,578.21 L321.64,578.28 L322.27,578.33 M308.47,577.46 L309.04,577.49 L309.94,577.53 L310.84,577.58 L311.74,577.63 L312.64,577.67 L313.54,577.72 L313.67,577.73 M299.87,577.14 L300.04,577.15 L300.94,577.17 L301.84,577.20 L302.74,577.23 L303.64,577.27 L304.54,577.30 L305.07,577.32 M291.27,576.92 L291.94,576.93 L292.84,576.95 L293.74,576.98 L294.64,577.00 L295.54,577.02 L296.44,577.04 L296.47,577.04 M282.67,576.77 L282.93,576.78 L283.83,576.79 L284.73,576.80 L285.63,576.82 L286.53,576.83 L287.43,576.85 L287.87,576.85 M274.07,576.67 L274.83,576.68 L275.73,576.69 L276.63,576.70 L277.53,576.71 L278.43,576.72 L279.27,576.73 M265.47,576.60 L265.83,576.61 L266.73,576.61 L267.63,576.62 L268.53,576.62 L269.43,576.63 L270.33,576.64 L270.67,576.64 M256.87,576.56 L257.73,576.56 L258.63,576.57 L259.53,576.57 L260.43,576.57 L261.33,576.58 L262.07,576.58 M248.27,576.53 L248.73,576.53 L249.63,576.53 L250.53,576.53 L251.43,576.54 L252.33,576.54 L253.23,576.54 L253.47,576.54 M239.67,576.51 L239.73,576.51 L240.63,576.51 L241.53,576.51 L242.43,576.51 L243.33,576.51 L244.23,576.52 L244.87,576.52 M231.07,576.49 L231.62,576.49 L232.52,576.49 L233.42,576.49 L234.32,576.50 L235.22,576.50 L236.12,576.50 L236.27,576.50 M222.47,576.48 L222.62,576.48 L223.52,576.48 L224.42,576.48 L225.32,576.48 L226.22,576.49 L227.12,576.49 L227.67,576.49 M213.87,576.48 L214.52,576.48 L215.42,576.48 L216.32,576.48 L217.22,576.48 L218.12,576.48 L219.02,576.48 L219.07,576.48 M205.27,576.47 L205.52,576.47 L206.42,576.47 L207.32,576.47 L208.22,576.47 L209.12,576.47 L210.02,576.47 L210.47,576.47 M196.67,576.47 L197.42,576.47 L198.32,576.47 L199.22,576.47 L200.12,576.47 L201.02,576.47 L201.87,576.47 M188.07,576.47 L188.41,576.47 L189.31,576.47 L190.21,576.47 L191.12,576.47 L192.02,576.47 L192.92,576.47 L193.27,576.47 M179.47,576.47 L180.31,576.47 L181.21,576.47 L182.11,576.47 L183.01,576.47 L183.91,576.47 L184.67,576.47 M170.87,576.46 L171.31,576.46 L172.21,576.46 L173.11,576.46 L174.01,576.46 L174.91,576.46 L175.81,576.46 L176.07,576.46 M162.27,576.46 L162.31,576.46 L163.21,576.46 L164.11,576.46 L165.01,576.46 L165.91,576.46 L166.81,576.46 L167.47,576.46 M153.67,576.46 L154.21,576.46 L155.11,576.46 L156.01,576.46 L156.91,576.46 L157.81,576.46 L158.71,576.46 L158.87,576.46 M145.07,576.46 L145.21,576.46 L146.11,576.46 L147.01,576.46 L147.91,576.46 L148.81,576.46 L149.71,576.46 L150.27,576.46 M136.47,576.46 L137.10,576.46 L138.00,576.46 L138.90,576.46 L139.80,576.46 L140.70,576.46 L141.60,576.46 L141.67,576.46 M127.87,576.46 L128.10,576.46 L129.00,576.46 L129.90,576.46 L130.80,576.46 L131.70,576.46 L132.60,576.46 L133.07,576.46 M119.27,576.46 L120.00,576.46 L120.90,576.46 L121.80,576.46 L122.70,576.46 L123.60,576.46 L124.47,576.46" fill="none" stroke="#f00000" stroke-width="3.6" stroke-linecap="butt"/>
<path d="M117.30,573.69 L118.20,573.69 L119.11,573.69 L120.01,573.69 L120.92,573.69 L121.82,573.69 L122.72,573.69 L123.63,573.69 L124.53,573.69 L125.43,573.69 L126.34,573.69 L127.24,573.69 L128.15,573.69 L129.05,573.69 L129.95,573.69 L130.86,573.69 L131.76,573.69 L132.66,573.69 L133.57,573.69 L134.47,573.69 L135.38,573.69 L136.28,573.68 L137.18,573.68 L138.09,573.68 L138.99,573.68 L139.90,573.68 L140.80,573.68 L141.70,573.68 L142.61,573.68 L143.51,573.68 L144.41,573.68 L145.32,573.68 L146.22,573.68 L147.13,573.68 L148.03,573.68 L148.93,573.68 L149.84,573.67 L150.74,573.67 L151.64,573.67 L152.55,573.67 L153.45,573.67 L154.36,573.67 L155.26,573.67 L156.16,573.67 L157.07,573.67 L157.97,573.67 L158.87,573.67 L159.78,573.66 L160.68,573.66 L161.59,573.66 L162.49,573.66 L163.39,573.66 L164.30,573.66 L165.20,573.66 L166.11,573.66 L167.01,573.65 L167.91,573.65 L168.82,573.65 L169.72,573.65 L170.62,573.65 L171.53,573.65 L172.43,573.64 L173.34,573.64 L174.24,573.64 L175.14,573.64 L176.05,573.64 L176.95,573.64 L177.85,573.63 L178.76,573.63 L179.66,573.63 L180.57,573.63 L181.47,573.63 L182.37,573.62 L183.28,573.62 L184.18,573.62 L185.09,573.62 L185.99,573.61 L186.89,573.61 L187.80,573.61 L188.70,573.61 L189.60,573.60 L190.51,573.60 L191.41,573.60 L192.32,573.59 L193.22,573.59 L194.12,573.59 L195.03,573.58 L195.93,573.58 L196.83,573.58 L197.74,573.57 L198.64,573.57 L199.55,573.57 L200.45,573.56 L201.35,573.56 L202.26,573.55 L203.16,573.55 L204.06,573.54 L204.97,573.54 L205.87,573.54 L206.78,573.53 L207.68,573.53 L208.58,573.52 L209.49,573.51 L210.39,573.51 L211.30,573.50 L212.20,573.50 L213.10,573.49 L214.01,573.49 L214.91,573.48 L215.81,573.47 L216.72,573.47 L217.62,573.46 L218.53,573.45 L219.43,573.45 L220.33,573.44 L221.24,573.43 L222.14,573.42 L223.04,573.42 L223.95,573.41 L224.85,573.40 L225.76,573.39 L226.66,573.38 L227.56,573.37 L228.47,573.37 L229.37,573.36 L230.28,573.35 L231.18,573.34 L232.08,573.33 L232.99,573.32 L233.89,573.30 L234.79,573.29 L235.70,573.28 L236.60,573.27 L237.51,573.26 L238.41,573.25 L239.31,573.23 L240.22,573.22 L241.12,573.21 L242.02,573.19 L242.93,573.18 L243.83,573.17 L244.74,573.15 L245.64,573.14 L246.54,573.12 L247.45,573.11 L248.35,573.09 L249.25,573.07 L250.16,573.06 L251.06,573.04 L251.97,573.02 L252.87,573.00 L253.77,572.99 L254.68,572.97 L255.58,572.95 L256.49,572.93 L257.39,572.91 L258.29,572.89 L259.20,572.87 L260.10,572.84 L261.00,572.82 L261.91,572.80 L262.81,572.78 L263.72,572.75 L264.62,572.73 L265.52,572.70 L266.43,572.68 L267.33,572.65 L268.23,572.63 L269.14,572.60 L270.04,572.57 L270.95,572.54 L271.85,572.51 L272.75,572.48 L273.66,572.45 L274.56,572.42 L275.46,572.39 L276.37,572.36 L277.27,572.33 L278.18,572.29 L279.08,572.26 L279.98,572.22 L280.89,572.19 L281.79,572.15 L282.70,572.11 L283.60,572.07 L284.50,572.04 L285.41,572.00 L286.31,571.96 L287.21,571.91 L288.12,571.87 L289.02,571.83 L289.93,571.78 L290.83,571.74 L291.73,571.69 L292.64,571.65 L293.54,571.60 L294.44,571.55 L295.35,571.50 L296.25,571.45 L297.16,571.40 L298.06,571.34 L298.96,571.29 L299.87,571.23 L300.77,571.18 L301.68,571.12 L302.58,571.06 L303.48,571.00 L304.39,570.94 L305.29,570.87 L306.19,570.81 L307.10,570.74 L308.00,570.67 L308.91,570.60 L309.81,570.53 L310.71,570.46 L311.62,570.38 L312.52,570.31 L313.42,570.23 L314.33,570.15 L315.23,570.06 L316.14,569.98 L317.04,569.89 L317.94,569.80 L318.85,569.71 L319.75,569.62 L320.66,569.52 L321.56,569.42 L322.46,569.32 L323.37,569.21 L324.27,569.10 L325.17,568.99 L326.08,568.88 L326.98,568.76 L327.89,568.64 L328.79,568.51 L329.69,568.38 L330.60,568.25 L331.50,568.11 L332.40,567.97 L333.31,567.83 L334.21,567.68 L335.12,567.52 L336.02,567.36 L336.92,567.20 L337.83,567.03 L338.73,566.85 L339.63,566.67 L340.54,566.48 L341.44,566.29 L342.35,566.09 L343.25,565.88 L344.15,565.67 L345.06,565.45 L345.96,565.22 L346.87,564.99 L347.77,564.75 L348.67,564.49 L349.58,564.24 L350.48,563.97 L351.38,563.69 L352.29,563.40 L353.19,563.11 L354.10,562.80 L355.00,562.49 L355.90,562.16 L356.81,561.82 L357.71,561.47 L358.61,561.11 L359.52,560.74 L360.42,560.36 L361.33,559.96 L362.23,559.55 L363.13,559.13 L364.04,558.69 L364.94,558.24 L365.84,557.78 L366.75,557.30 L367.65,556.81 L368.56,556.30 L369.46,555.78 L370.36,555.24 L371.27,554.68 L372.17,554.11 L373.08,553.52 L373.98,552.91 L374.88,552.29 L375.79,551.65 L376.69,550.99 L377.59,550.32 L378.50,549.62 L379.40,548.91 L380.31,548.18 L381.21,547.43 L382.11,546.66 L383.02,545.88 L383.92,545.07 L384.82,544.25 L385.73,543.41 L386.63,542.55 L387.54,541.67 L388.44,540.77 L389.34,539.86 L390.25,538.92 L391.15,537.97 L392.06,537.01 L392.96,536.02 L393.86,535.02 L394.77,534.00 L395.67,532.97 L396.57,531.92 L397.48,530.86 L398.38,529.78 L399.29,528.69 L400.19,527.59 L401.09,526.47 L402.00,525.35 L402.90,524.21 L403.80,523.06 L404.71,521.91 L405.61,520.75 L406.52,519.58 L407.42,518.40 L408.32,517.22 L409.23,516.03 L410.13,514.84 L411.04,513.65 L411.94,512.46 L412.84,511.27 L413.75,510.08 L414.65,508.89 L415.55,507.70 L416.46,506.52 L417.36,505.34 L418.27,504.17 L419.17,503.00 L420.07,501.84 L420.98,500.69 L421.88,499.55 L422.78,498.42 L423.69,497.30 L424.59,496.19 L425.50,495.10 L426.40,494.01 L427.30,492.95 L428.21,491.89 L429.11,490.85 L430.01,489.83 L430.92,488.82 L431.82,487.83 L432.73,486.86 L433.63,485.90 L434.53,484.96 L435.44,484.04 L436.34,483.14 L437.25,482.26 L438.15,481.39 L439.05,480.54 L439.96,479.71 L440.86,478.90 L441.76,478.11 L442.67,477.34 L443.57,476.59 L444.48,475.86 L445.38,475.14 L446.28,474.44 L447.19,473.76 L448.09,473.10 L448.99,472.46 L449.90,471.84 L450.80,471.23 L451.71,470.64 L452.61,470.07 L453.51,469.51 L454.42,468.97 L455.32,468.45 L456.23,467.94 L457.13,467.45 L458.03,466.98 L458.94,466.52 L459.84,466.07 L460.74,465.64 L461.65,465.22 L462.55,464.82 L463.46,464.43 L464.36,464.05 L465.26,463.68 L466.17,463.33 L467.07,462.99 L467.97,462.66 L468.88,462.34 L469.78,462.04 L470.69,461.74 L471.59,461.45 L472.49,461.18 L473.40,460.91 L474.30,460.66 L475.20,460.41 L476.11,460.17 L477.01,459.94 L477.92,459.72 L478.82,459.51 L479.72,459.30 L480.63,459.10 L481.53,458.91 L482.44,458.73 L483.34,458.55 L484.24,458.38 L485.15,458.22 L486.05,458.06 L486.95,457.91 L487.86,457.77 L488.76,457.62 L489.67,457.49 L490.57,457.36 L491.47,457.24 L492.38,457.11 L493.28,457.00 L494.18,456.89 L495.09,456.78 L495.99,456.68 L496.90,456.58 L497.80,456.48 L498.70,456.39 L499.61,456.31 L500.51,456.22 L501.42,456.14 L502.32,456.06 L503.22,455.99 L504.13,455.92 L505.03,455.85 L505.93,455.78 L506.84,455.72 L507.74,455.65 L508.65,455.60 L509.55,455.54 L510.45,455.48 L511.36,455.43 L512.26,455.38 L513.16,455.33 L514.07,455.29 L514.97,455.24 L515.88,455.20 L516.78,455.16 L517.68,455.12 L518.59,455.08 L519.49,455.05 L520.39,455.01 L521.30,454.98 L522.20,454.94 L523.11,454.91 L524.01,454.88 L524.91,454.86 L525.82,454.83 L526.72,454.80 L527.63,454.78 L528.53,454.75 L529.43,454.73 L530.34,454.71 L531.24,454.69 L532.14,454.66 L533.05,454.65 L533.95,454.63 L534.86,454.61 L535.76,454.59 L536.66,454.57 L537.57,454.56 L538.47,454.54 L539.37,454.53 L540.28,454.51 L541.18,454.50 L542.09,454.49 L542.99,454.47 L543.89,454.46 L544.80,454.45 L545.70,454.44 L546.61,454.43 L547.51,454.42 L548.41,454.41 L549.32,454.40 L550.22,454.39 L551.12,454.38 L552.03,454.37 L552.93,454.36 L553.84,454.36 L554.74,454.35 L555.64,454.34 L556.55,454.33 L557.45,454.33 L558.35,454.32 L559.26,454.32 L560.16,454.31 L561.07,454.30 L561.97,454.30 L562.87,454.29 L563.78,454.29 L564.68,454.28 L565.58,454.28 L566.49,454.27 L567.39,454.27 L568.30,454.27 L569.20,454.26 L570.10,454.26 L571.01,454.26 L571.91,454.25 L572.82,454.25 L573.72,454.25 L574.62,454.24 L575.53,454.24 L576.43,454.24 L577.33,454.23 L578.24,454.23 L579.14,454.23 L580.05,454.23 L580.95,454.22 L581.85,454.22 L582.76,454.22 L583.66,454.22 L584.56,454.22 L585.47,454.21 L586.37,454.21 L587.28,454.21 L588.18,454.21 L589.08,454.21 L589.99,454.21 L590.89,454.20 L591.80,454.20 L592.70,454.20 L593.60,454.20 L594.51,454.20 L595.41,454.20 L596.31,454.20 L597.22,454.20 L598.12,454.19 L599.03,454.19 L599.93,454.19 L600.83,454.19 L601.74,454.19 L602.64,454.19 L603.54,454.19 L604.45,454.19 L605.35,454.19 L606.26,454.19 L607.16,454.19 L608.06,454.18 L608.97,454.18 L609.87,454.18 L610.77,454.18 L611.68,454.18 L612.58,454.18 L613.49,454.18 L614.39,454.18 L615.29,454.18 L616.20,454.18 L617.10,454.18 L618.01,454.18 L618.91,454.18 L619.81,454.18 L620.72,454.18 L621.62,454.18 L622.52,454.18 L623.43,454.18 L624.33,454.18 L625.24,454.18 L626.14,454.17 L627.04,454.17 L627.95,454.17 L628.85,454.17 L629.75,454.17 L630.66,454.17 L631.56,454.17 L632.47,454.17 L633.37,454.17 L634.27,454.17 L635.18,454.17 L636.08,454.17 L636.98,454.17 L637.89,454.17 L638.79,454.17 L639.70,454.17 L640.60,454.17 L641.50,454.17 L642.41,454.17 L643.31,454.17 L644.22,454.17 L645.12,454.17 L646.02,454.17 L646.93,454.17 L647.83,454.17 L648.73,454.17 L649.64,454.17 L650.54,454.17 L651.45,454.17 L652.35,454.17 L653.25,454.17 L654.16,454.17 L655.06,454.17 L655.96,454.17 L656.87,454.17 L657.77,454.17 L658.68,454.17 L659.58,454.17" fill="none" stroke="#ff0000" stroke-width="4.4" stroke-linecap="round" stroke-linejoin="round"/>
<path d="M1255.00,694.87h0 M1248.38,694.82h0 M1241.76,694.77h0 M1235.14,694.71h0 M1228.52,694.66h0 M1221.90,694.60h0 M1215.28,694.55h0 M1208.66,694.49h0 M1202.04,694.43h0 M1195.42,694.37h0 M1188.80,694.31h0 M1182.18,694.24h0 M1175.56,694.17h0 M1168.94,694.09h0 M1162.32,694.00h0 M1155.70,693.90h0 M1149.08,693.78h0 M1142.46,693.64h0 M1135.84,693.47h0 M1129.22,693.25h0 M1122.60,692.99h0 M1115.98,692.66h0 M1109.36,692.23h0 M1102.74,691.67h0 M1096.12,690.95h0 M1089.50,690.02h0 M1082.88,688.80h0 M1076.26,687.24h0 M1069.64,685.26h0 M1063.02,682.72h0 M1056.40,679.49h0 M1049.78,675.44h0 M1043.16,670.48h0 M1036.54,664.56h0 M1030.18,657.96h0 M1024.46,651.34h0 M1019.13,644.72h0 M1014.02,638.10h0 M1008.99,631.48h0 M1003.92,624.86h0 M998.66,618.24h0 M993.06,611.62h0 M986.88,605.00h0 M980.26,598.82h0 M973.64,593.61h0 M967.02,589.35h0 M960.40,585.92h0 M953.78,583.21h0 M947.16,581.10h0 M940.54,579.47h0 M933.92,578.22h0 M927.30,577.27h0 M920.68,576.56h0 M914.06,576.02h0 M907.44,575.61h0 M900.82,575.31h0 M894.20,575.08h0 M887.58,574.91h0 M880.96,574.78h0 M874.34,574.68h0 M867.72,574.61h0 M861.10,574.56h0 M854.48,574.52h0 M847.86,574.49h0 M841.24,574.47h0 M834.62,574.45h0 M828.00,574.44h0 M821.38,574.43h0 M814.76,574.42h0 M808.14,574.42h0 M801.52,574.41h0 M794.90,574.41h0 M788.28,574.41h0 M781.66,574.41h0 M775.04,574.40h0 M768.42,574.40h0 M761.80,574.40h0 M755.18,574.40h0 M748.56,574.40h0 M741.94,574.40h0 M735.32,574.40h0 M728.70,574.40h0 M722.08,574.40h0" fill="none" stroke="#2b2b2b" stroke-width="3.9" stroke-linecap="round"/>
<path d="M715.70,574.40 L716.60,574.40 L717.51,574.40 L718.41,574.40 L719.32,574.40 L720.22,574.40 L721.12,574.40 L722.03,574.40 L722.93,574.40 L723.83,574.40 L724.74,574.40 L725.64,574.40 L726.55,574.40 L727.45,574.40 L728.35,574.40 L729.26,574.40 L730.16,574.40 L731.06,574.40 L731.97,574.40 L732.87,574.40 L733.78,574.40 L734.68,574.40 L735.58,574.40 L736.49,574.40 L737.39,574.40 L738.29,574.40 L739.20,574.40 L740.10,574.40 L741.01,574.40 L741.91,574.40 L742.81,574.40 L743.72,574.39 L744.62,574.39 L745.53,574.39 L746.43,574.39 L747.33,574.39 L748.24,574.39 L749.14,574.39 L750.04,574.39 L750.95,574.39 L751.85,574.39 L752.76,574.39 L753.66,574.39 L754.56,574.39 L755.47,574.39 L756.37,574.39 L757.27,574.39 L758.18,574.39 L759.08,574.39 L759.99,574.39 L760.89,574.39 L761.79,574.39 L762.70,574.39 L763.60,574.39 L764.51,574.38 L765.41,574.38 L766.31,574.38 L767.22,574.38 L768.12,574.38 L769.02,574.38 L769.93,574.38 L770.83,574.38 L771.74,574.38 L772.64,574.38 L773.54,574.38 L774.45,574.38 L775.35,574.38 L776.25,574.37 L777.16,574.37 L778.06,574.37 L778.97,574.37 L779.87,574.37 L780.77,574.37 L781.68,574.37 L782.58,574.37 L783.49,574.37 L784.39,574.37 L785.29,574.36 L786.20,574.36 L787.10,574.36 L788.00,574.36 L788.91,574.36 L789.81,574.36 L790.72,574.36 L791.62,574.35 L792.52,574.35 L793.43,574.35 L794.33,574.35 L795.23,574.35 L796.14,574.35 L797.04,574.34 L797.95,574.34 L798.85,574.34 L799.75,574.34 L800.66,574.34 L801.56,574.33 L802.46,574.33 L803.37,574.33 L804.27,574.33 L805.18,574.33 L806.08,574.32 L806.98,574.32 L807.89,574.32 L808.79,574.32 L809.70,574.31 L810.60,574.31 L811.50,574.31 L812.41,574.30 L813.31,574.30 L814.21,574.30 L815.12,574.29 L816.02,574.29 L816.93,574.29 L817.83,574.28 L818.73,574.28 L819.64,574.28 L820.54,574.27 L821.44,574.27 L822.35,574.26 L823.25,574.26 L824.16,574.26 L825.06,574.25 L825.96,574.25 L826.87,574.24 L827.77,574.24 L828.67,574.23 L829.58,574.23 L830.48,574.22 L831.39,574.21 L832.29,574.21 L833.19,574.20 L834.10,574.20 L835.00,574.19 L835.91,574.18 L836.81,574.18 L837.71,574.17 L838.62,574.16 L839.52,574.16 L840.42,574.15 L841.33,574.14 L842.23,574.13 L843.14,574.12 L844.04,574.11 L844.94,574.11 L845.85,574.10 L846.75,574.09 L847.65,574.08 L848.56,574.07 L849.46,574.06 L850.37,574.05 L851.27,574.03 L852.17,574.02 L853.08,574.01 L853.98,574.00 L854.89,573.99 L855.79,573.97 L856.69,573.96 L857.60,573.95 L858.50,573.93 L859.40,573.92 L860.31,573.90 L861.21,573.89 L862.12,573.87 L863.02,573.86 L863.92,573.84 L864.83,573.82 L865.73,573.80 L866.63,573.79 L867.54,573.77 L868.44,573.75 L869.35,573.73 L870.25,573.71 L871.15,573.69 L872.06,573.66 L872.96,573.64 L873.87,573.62 L874.77,573.59 L875.67,573.57 L876.58,573.54 L877.48,573.52 L878.38,573.49 L879.29,573.46 L880.19,573.43 L881.10,573.40 L882.00,573.37 L882.90,573.34 L883.81,573.31 L884.71,573.28 L885.61,573.24 L886.52,573.21 L887.42,573.17 L888.33,573.13 L889.23,573.09 L890.13,573.05 L891.04,573.01 L891.94,572.97 L892.84,572.93 L893.75,572.88 L894.65,572.83 L895.56,572.79 L896.46,572.74 L897.36,572.69 L898.27,572.63 L899.17,572.58 L900.08,572.52 L900.98,572.47 L901.88,572.41 L902.79,572.35 L903.69,572.29 L904.59,572.22 L905.50,572.16 L906.40,572.09 L907.31,572.02 L908.21,571.95 L909.11,571.87 L910.02,571.79 L910.92,571.72 L911.82,571.63 L912.73,571.55 L913.63,571.46 L914.54,571.37 L915.44,571.28 L916.34,571.19 L917.25,571.09 L918.15,570.99 L919.06,570.89 L919.96,570.78 L920.86,570.67 L921.77,570.56 L922.67,570.44 L923.57,570.32 L924.48,570.20 L925.38,570.07 L926.29,569.94 L927.19,569.80 L928.09,569.66 L929.00,569.51 L929.90,569.37 L930.80,569.21 L931.71,569.05 L932.61,568.89 L933.52,568.72 L934.42,568.55 L935.32,568.37 L936.23,568.18 L937.13,567.99 L938.03,567.79 L938.94,567.59 L939.84,567.38 L940.75,567.17 L941.65,566.94 L942.55,566.71 L943.46,566.47 L944.36,566.23 L945.27,565.98 L946.17,565.72 L947.07,565.45 L947.98,565.17 L948.88,564.88 L949.78,564.59 L950.69,564.28 L951.59,563.97 L952.50,563.64 L953.40,563.31 L954.30,562.96 L955.21,562.61 L956.11,562.24 L957.01,561.86 L957.92,561.47 L958.82,561.07 L959.73,560.66 L960.63,560.23 L961.53,559.79 L962.44,559.33 L963.34,558.87 L964.24,558.39 L965.15,557.89 L966.05,557.38 L966.96,556.86 L967.86,556.32 L968.76,555.76 L969.67,555.19 L970.57,554.60 L971.48,554.00 L972.38,553.38 L973.28,552.74 L974.19,552.09 L975.09,551.42 L975.99,550.73 L976.90,550.02 L977.80,549.30 L978.71,548.56 L979.61,547.80 L980.51,547.02 L981.42,546.22 L982.32,545.41 L983.22,544.57 L984.13,543.72 L985.03,542.85 L985.94,541.96 L986.84,541.06 L987.74,540.14 L988.65,539.19 L989.55,538.24 L990.46,537.26 L991.36,536.27 L992.26,535.26 L993.17,534.24 L994.07,533.20 L994.97,532.14 L995.88,531.07 L996.78,529.99 L997.69,528.89 L998.59,527.78 L999.49,526.66 L1000.40,525.53 L1001.30,524.38 L1002.20,523.23 L1003.11,522.07 L1004.01,520.90 L1004.92,519.72 L1005.82,518.54 L1006.72,517.35 L1007.63,516.15 L1008.53,514.95 L1009.43,513.75 L1010.34,512.55 L1011.24,511.35 L1012.15,510.15 L1013.05,508.95 L1013.95,507.75 L1014.86,506.55 L1015.76,505.36 L1016.67,504.17 L1017.57,502.99 L1018.47,501.82 L1019.38,500.66 L1020.28,499.50 L1021.18,498.35 L1022.09,497.22 L1022.99,496.09 L1023.90,494.98 L1024.80,493.88 L1025.70,492.79 L1026.61,491.72 L1027.51,490.66 L1028.41,489.62 L1029.32,488.59 L1030.22,487.58 L1031.13,486.58 L1032.03,485.60 L1032.93,484.64 L1033.84,483.70 L1034.74,482.78 L1035.65,481.87 L1036.55,480.98 L1037.45,480.11 L1038.36,479.26 L1039.26,478.43 L1040.16,477.62 L1041.07,476.82 L1041.97,476.04 L1042.88,475.29 L1043.78,474.55 L1044.68,473.83 L1045.59,473.13 L1046.49,472.44 L1047.39,471.78 L1048.30,471.13 L1049.20,470.50 L1050.11,469.89 L1051.01,469.30 L1051.91,468.72 L1052.82,468.16 L1053.72,467.62 L1054.62,467.09 L1055.53,466.58 L1056.43,466.08 L1057.34,465.60 L1058.24,465.14 L1059.14,464.68 L1060.05,464.25 L1060.95,463.83 L1061.86,463.42 L1062.76,463.02 L1063.66,462.64 L1064.57,462.27 L1065.47,461.91 L1066.37,461.57 L1067.28,461.23 L1068.18,460.91 L1069.09,460.60 L1069.99,460.30 L1070.89,460.01 L1071.80,459.73 L1072.70,459.46 L1073.60,459.20 L1074.51,458.94 L1075.41,458.70 L1076.32,458.47 L1077.22,458.24 L1078.12,458.01 L1079.03,457.79 L1079.93,457.57 L1080.84,457.37 L1081.74,457.17 L1082.64,456.97 L1083.55,456.79 L1084.45,456.61 L1085.35,456.43 L1086.26,456.26 L1087.16,456.10 L1088.07,455.94 L1088.97,455.79 L1089.87,455.64 L1090.78,455.50 L1091.68,455.37 L1092.58,455.23 L1093.49,455.11 L1094.39,454.98 L1095.30,454.87 L1096.20,454.75 L1097.10,454.64 L1098.01,454.53 L1098.91,454.43 L1099.82,454.33 L1100.72,454.23 L1101.62,454.14 L1102.53,454.05 L1103.43,453.96 L1104.33,453.88 L1105.24,453.79 L1106.14,453.71 L1107.05,453.64 L1107.95,453.56 L1108.85,453.49 L1109.76,453.42 L1110.66,453.35 L1111.56,453.29 L1112.47,453.23 L1113.37,453.16 L1114.28,453.11 L1115.18,453.05 L1116.08,452.99 L1116.99,452.94 L1117.89,452.89 L1118.79,452.83 L1119.70,452.78 L1120.60,452.74 L1121.51,452.69 L1122.41,452.64 L1123.31,452.60 L1124.22,452.56 L1125.12,452.52 L1126.03,452.47 L1126.93,452.43 L1127.83,452.40 L1128.74,452.36 L1129.64,452.32 L1130.54,452.29 L1131.45,452.25 L1132.35,452.22 L1133.26,452.18 L1134.16,452.15 L1135.06,452.12 L1135.97,452.09 L1136.87,452.06 L1137.77,452.03 L1138.68,452.00 L1139.58,451.97 L1140.49,451.95 L1141.39,451.92 L1142.29,451.89 L1143.20,451.87 L1144.10,451.84 L1145.01,451.82 L1145.91,451.79 L1146.81,451.77 L1147.72,451.74 L1148.62,451.72 L1149.52,451.70 L1150.43,451.67 L1151.33,451.65 L1152.24,451.63 L1153.14,451.61 L1154.04,451.59 L1154.95,451.57 L1155.85,451.55 L1156.75,451.53 L1157.66,451.51 L1158.56,451.49 L1159.47,451.47 L1160.37,451.45 L1161.27,451.43 L1162.18,451.41 L1163.08,451.39 L1163.98,451.37 L1164.89,451.36 L1165.79,451.34 L1166.70,451.32 L1167.60,451.30 L1168.50,451.29 L1169.41,451.27 L1170.31,451.25 L1171.22,451.23 L1172.12,451.22 L1173.02,451.20 L1173.93,451.18 L1174.83,451.17 L1175.73,451.15 L1176.64,451.14 L1177.54,451.12 L1178.45,451.10 L1179.35,451.09 L1180.25,451.07 L1181.16,451.06 L1182.06,451.04 L1182.96,451.03 L1183.87,451.01 L1184.77,451.00 L1185.68,450.98 L1186.58,450.97 L1187.48,450.95 L1188.39,450.94 L1189.29,450.92 L1190.20,450.91 L1191.10,450.89 L1192.00,450.88 L1192.91,450.86 L1193.81,450.85 L1194.71,450.83 L1195.62,450.82 L1196.52,450.80 L1197.43,450.79 L1198.33,450.77 L1199.23,450.76 L1200.14,450.75 L1201.04,450.73 L1201.94,450.72 L1202.85,450.70 L1203.75,450.69 L1204.66,450.68 L1205.56,450.66 L1206.46,450.65 L1207.37,450.63 L1208.27,450.62 L1209.17,450.61 L1210.08,450.59 L1210.98,450.58 L1211.89,450.56 L1212.79,450.55 L1213.69,450.54 L1214.60,450.52 L1215.50,450.51 L1216.41,450.50 L1217.31,450.48 L1218.21,450.47 L1219.12,450.45 L1220.02,450.44 L1220.92,450.43 L1221.83,450.41 L1222.73,450.40 L1223.64,450.39 L1224.54,450.37 L1225.44,450.36 L1226.35,450.35 L1227.25,450.33 L1228.15,450.32 L1229.06,450.31 L1229.96,450.29 L1230.87,450.28 L1231.77,450.27 L1232.67,450.25 L1233.58,450.24 L1234.48,450.22 L1235.38,450.21 L1236.29,450.20 L1237.19,450.18 L1238.10,450.17 L1239.00,450.16 L1239.90,450.14 L1240.81,450.13 L1241.71,450.12 L1242.62,450.10 L1243.52,450.09 L1244.42,450.08 L1245.33,450.06 L1246.23,450.05 L1247.13,450.04 L1248.04,450.02 L1248.94,450.01 L1249.85,450.00 L1250.75,449.98 L1251.65,449.97 L1252.56,449.96 L1253.46,449.94 L1254.36,449.93 L1255.27,449.92 L1256.17,449.90 L1257.08,449.89 L1257.98,449.88" fill="none" stroke="#2b2b2b" stroke-width="4" stroke-linecap="round" stroke-linejoin="round"/>
<rect x="112.3" y="6.2" width="552.4" height="358.3" fill="none" stroke="#333333" stroke-width="2"/>
<rect x="112.3" y="395.5" width="552.4" height="358.5" fill="none" stroke="#333333" stroke-width="2"/>
<rect x="710.7" y="6.2" width="552.6" height="358.3" fill="none" stroke="#333333" stroke-width="2"/>
<rect x="710.7" y="395.5" width="552.6" height="358.5" fill="none" stroke="#333333" stroke-width="2"/>
<line x1="96.1" y1="11.00" x2="112.3" y2="11.00" stroke="#333333" stroke-width="2"/>
<text x="88.2" y="18.7" font-size="26" fill="#222222" text-anchor="end" transform="translate(0,18.70) scale(1,1.026) translate(0,-18.70)">20</text>
<line x1="96.1" y1="98.65" x2="112.3" y2="98.65" stroke="#333333" stroke-width="2"/>
<text x="88.2" y="106.4" font-size="26" fill="#222222" text-anchor="end" transform="translate(0,106.35) scale(1,1.026) translate(0,-106.35)">0</text>
<path fill="#222222" d="M66.78,106.35 L69.28,106.35 L69.28,87.75 L67.08,87.75 L65.18,90.05 L62.11,91.95 L62.11,94.35 L65.58,92.65 L66.78,91.35 Z"/>
<line x1="96.1" y1="185.45" x2="112.3" y2="185.45" stroke="#333333" stroke-width="2"/>
<text x="88.2" y="193.1" font-size="26" fill="#222222" text-anchor="end" transform="translate(0,193.15) scale(1,1.026) translate(0,-193.15)">0</text>
<line x1="96.1" y1="273.20" x2="112.3" y2="273.20" stroke="#333333" stroke-width="2"/>
<text x="88.2" y="280.9" font-size="26" fill="#222222" text-anchor="end" transform="translate(0,280.90) scale(1,1.026) translate(0,-280.90)">0</text>
<path fill="#222222" d="M66.78,280.90 L69.28,280.90 L69.28,262.30 L67.08,262.30 L65.18,264.60 L62.11,266.50 L62.11,268.90 L65.58,267.20 L66.78,265.90 Z"/>
<text x="59.28" y="282.1" font-size="26" fill="#222222" text-anchor="end" stroke="#222222" stroke-width="0.45">-</text>
<line x1="96.1" y1="359.50" x2="112.3" y2="359.50" stroke="#333333" stroke-width="2"/>
<text x="88.2" y="367.2" font-size="26" fill="#222222" text-anchor="end" transform="translate(0,367.20) scale(1,1.026) translate(0,-367.20)"><tspan dy="1.2" stroke="#222222" stroke-width="0.45">-</tspan><tspan dy="-1.2">20</tspan></text>
<line x1="96.1" y1="400.40" x2="112.3" y2="400.40" stroke="#333333" stroke-width="2"/>
<text x="88.2" y="408.1" font-size="26" fill="#222222" text-anchor="end" transform="translate(0,408.10) scale(1,1.026) translate(0,-408.10)">20</text>
<line x1="96.1" y1="488.05" x2="112.3" y2="488.05" stroke="#333333" stroke-width="2"/>
<text x="88.2" y="495.7" font-size="26" fill="#222222" text-anchor="end" transform="translate(0,495.75) scale(1,1.026) translate(0,-495.75)">0</text>
<path fill="#222222" d="M66.78,495.75 L69.28,495.75 L69.28,477.15 L67.08,477.15 L65.18,479.45 L62.11,481.35 L62.11,483.75 L65.58,482.05 L66.78,480.75 Z"/>
<line x1="96.1" y1="574.85" x2="112.3" y2="574.85" stroke="#333333" stroke-width="2"/>
<text x="88.2" y="582.5" font-size="26" fill="#222222" text-anchor="end" transform="translate(0,582.55) scale(1,1.026) translate(0,-582.55)">0</text>
<line x1="96.1" y1="662.60" x2="112.3" y2="662.60" stroke="#333333" stroke-width="2"/>
<text x="88.2" y="670.3" font-size="26" fill="#222222" text-anchor="end" transform="translate(0,670.30) scale(1,1.026) translate(0,-670.30)">0</text>
<path fill="#222222" d="M66.78,670.30 L69.28,670.30 L69.28,651.70 L67.08,651.70 L65.18,654.00 L62.11,655.90 L62.11,658.30 L65.58,656.60 L66.78,655.30 Z"/>
<text x="59.28" y="671.5" font-size="26" fill="#222222" text-anchor="end" stroke="#222222" stroke-width="0.45">-</text>
<line x1="96.1" y1="748.90" x2="112.3" y2="748.90" stroke="#333333" stroke-width="2"/>
<text x="88.2" y="756.6" font-size="26" fill="#222222" text-anchor="end" transform="translate(0,756.60) scale(1,1.026) translate(0,-756.60)"><tspan dy="1.2" stroke="#222222" stroke-width="0.45">-</tspan><tspan dy="-1.2">20</tspan></text>
<line x1="117.3" y1="754" x2="117.3" y2="770" stroke="#333333" stroke-width="2"/>
<text x="117.0" y="801" font-size="26" fill="#222222" text-anchor="middle" transform="translate(0,801.00) scale(1,1.026) translate(0,-801.00)"><tspan dy="0.6" stroke="#222222" stroke-width="0.45">-</tspan><tspan dy="-0.6">0.3</tspan></text>
<line x1="207.7" y1="754" x2="207.7" y2="770" stroke="#333333" stroke-width="2"/>
<text x="207.4" y="801" font-size="26" fill="#222222" text-anchor="middle" transform="translate(0,801.00) scale(1,1.026) translate(0,-801.00)"><tspan dy="0.6" stroke="#222222" stroke-width="0.45">-</tspan><tspan dy="-0.6">0.4</tspan></text>
<line x1="298.1" y1="754" x2="298.1" y2="770" stroke="#333333" stroke-width="2"/>
<text x="297.8" y="801" font-size="26" fill="#222222" text-anchor="middle" transform="translate(0,801.00) scale(1,1.026) translate(0,-801.00)"><tspan dy="0.6" stroke="#222222" stroke-width="0.45">-</tspan><tspan dy="-0.6">0.5</tspan></text>
<line x1="388.4" y1="754" x2="388.4" y2="770" stroke="#333333" stroke-width="2"/>
<text x="388.1" y="801" font-size="26" fill="#222222" text-anchor="middle" transform="translate(0,801.00) scale(1,1.026) translate(0,-801.00)"><tspan dy="0.6" stroke="#222222" stroke-width="0.45">-</tspan><tspan dy="-0.6">0.6</tspan></text>
<line x1="478.8" y1="754" x2="478.8" y2="770" stroke="#333333" stroke-width="2"/>
<text x="478.5" y="801" font-size="26" fill="#222222" text-anchor="middle" transform="translate(0,801.00) scale(1,1.026) translate(0,-801.00)"><tspan dy="0.6" stroke="#222222" stroke-width="0.45">-</tspan><tspan dy="-0.6">0.7</tspan></text>
<line x1="569.2" y1="754" x2="569.2" y2="770" stroke="#333333" stroke-width="2"/>
<text x="568.9" y="801" font-size="26" fill="#222222" text-anchor="middle" transform="translate(0,801.00) scale(1,1.026) translate(0,-801.00)"><tspan dy="0.6" stroke="#222222" stroke-width="0.45">-</tspan><tspan dy="-0.6">0.8</tspan></text>
<line x1="659.6" y1="754" x2="659.6" y2="770" stroke="#333333" stroke-width="2"/>
<text x="659.3" y="801" font-size="26" fill="#222222" text-anchor="middle" transform="translate(0,801.00) scale(1,1.026) translate(0,-801.00)"><tspan dy="0.6" stroke="#222222" stroke-width="0.45">-</tspan><tspan dy="-0.6">0.9</tspan></text>
<line x1="715.7" y1="754" x2="715.7" y2="770" stroke="#333333" stroke-width="2"/>
<text x="715.4" y="801" font-size="26" fill="#222222" text-anchor="middle" transform="translate(0,801.00) scale(1,1.026) translate(0,-801.00)"><tspan dy="0.6" stroke="#222222" stroke-width="0.45">-</tspan><tspan dy="-0.6">0.3</tspan></text>
<line x1="806.1" y1="754" x2="806.1" y2="770" stroke="#333333" stroke-width="2"/>
<text x="805.8" y="801" font-size="26" fill="#222222" text-anchor="middle" transform="translate(0,801.00) scale(1,1.026) translate(0,-801.00)"><tspan dy="0.6" stroke="#222222" stroke-width="0.45">-</tspan><tspan dy="-0.6">0.4</tspan></text>
<line x1="896.5" y1="754" x2="896.5" y2="770" stroke="#333333" stroke-width="2"/>
<text x="896.2" y="801" font-size="26" fill="#222222" text-anchor="middle" transform="translate(0,801.00) scale(1,1.026) translate(0,-801.00)"><tspan dy="0.6" stroke="#222222" stroke-width="0.45">-</tspan><tspan dy="-0.6">0.5</tspan></text>
<line x1="986.8" y1="754" x2="986.8" y2="770" stroke="#333333" stroke-width="2"/>
<text x="986.5" y="801" font-size="26" fill="#222222" text-anchor="middle" transform="translate(0,801.00) scale(1,1.026) translate(0,-801.00)"><tspan dy="0.6" stroke="#222222" stroke-width="0.45">-</tspan><tspan dy="-0.6">0.6</tspan></text>
<line x1="1077.2" y1="754" x2="1077.2" y2="770" stroke="#333333" stroke-width="2"/>
<text x="1076.9" y="801" font-size="26" fill="#222222" text-anchor="middle" transform="translate(0,801.00) scale(1,1.026) translate(0,-801.00)"><tspan dy="0.6" stroke="#222222" stroke-width="0.45">-</tspan><tspan dy="-0.6">0.7</tspan></text>
<line x1="1167.6" y1="754" x2="1167.6" y2="770" stroke="#333333" stroke-width="2"/>
<text x="1167.3" y="801" font-size="26" fill="#222222" text-anchor="middle" transform="translate(0,801.00) scale(1,1.026) translate(0,-801.00)"><tspan dy="0.6" stroke="#222222" stroke-width="0.45">-</tspan><tspan dy="-0.6">0.8</tspan></text>
<line x1="1258.0" y1="754" x2="1258.0" y2="770" stroke="#333333" stroke-width="2"/>
<text x="1257.7" y="801" font-size="26" fill="#222222" text-anchor="middle" transform="translate(0,801.00) scale(1,1.026) translate(0,-801.00)"><tspan dy="0.6" stroke="#222222" stroke-width="0.45">-</tspan><tspan dy="-0.6">0.9</tspan></text>
<g class="b" fill="#0a0a0a" font-weight="bold">
<text y="837" font-size="33.5" transform="translate(0,837.00) scale(1,1.03) translate(0,-837.00)"><tspan x="215.97">E</tspan><tspan x="277.00">/</tspan><tspan x="295.00">V</tspan><tspan x="328.60">vs.</tspan><tspan x="383.70">Hg/Hg</tspan><tspan x="497.40">SO</tspan></text>
<text y="848.0" font-size="23.5"><tspan x="240.10">tip</tspan></text>
<text y="848.0" font-size="23.5" transform="translate(0,848.00) scale(1,1.066) translate(0,-848.00)"><tspan x="483.90">2</tspan><tspan x="545.90">4</tspan></text>
</g>
<g class="b" fill="#0a0a0a" font-weight="bold">
<text y="837" font-size="33.5" transform="translate(0,837.00) scale(1,1.03) translate(0,-837.00)"><tspan x="814.37">E</tspan><tspan x="875.40">/</tspan><tspan x="893.40">V</tspan><tspan x="927.00">vs.</tspan><tspan x="982.10">Hg/Hg</tspan><tspan x="1095.80">SO</tspan></text>
<text y="848.0" font-size="23.5"><tspan x="838.50">tip</tspan></text>
<text y="848.0" font-size="23.5" transform="translate(0,848.00) scale(1,1.066) translate(0,-848.00)"><tspan x="1082.30">2</tspan><tspan x="1144.30">4</tspan></text>
</g>
<g transform="translate(27,149.35) rotate(-90) scale(1,1.02)" class="b" fill="#0a0a0a" font-weight="bold"><text x="0" y="0" font-size="33.5">i<tspan font-size="23.5" dy="10.5">tip</tspan><tspan dy="-10.5"> / nA</tspan></text></g>
<g transform="translate(27,331.65) rotate(-90) scale(1,1.02)" class="b" fill="#0a0a0a" font-weight="bold"><text x="0" y="0" font-size="33.5">i<tspan font-size="23.5" dy="10.5">sub</tspan><tspan dy="-10.5"> / nA</tspan></text></g>
<g transform="translate(27,538.75) rotate(-90) scale(1,1.02)" class="b" fill="#0a0a0a" font-weight="bold"><text x="0" y="0" font-size="33.5">i<tspan font-size="23.5" dy="10.5">tip</tspan><tspan dy="-10.5"> / nA</tspan></text></g>
<g transform="translate(27,721.05) rotate(-90) scale(1,1.02)" class="b" fill="#0a0a0a" font-weight="bold"><text x="0" y="0" font-size="33.5">i<tspan font-size="23.5" dy="10.5">sub</tspan><tspan dy="-10.5"> / nA</tspan></text></g>
<text x="135.0" y="47.3" font-size="30" fill="#222222">npPt</text><rect x="198.6" y="39.2" width="8.0" height="2.8" fill="#222222"/>
<rect x="208.10" y="26.90" width="8.80" height="1.1" fill="#4a4a4a"/><rect x="208.10" y="46.50" width="8.80" height="1.1" fill="#4a4a4a"/><g fill="#1a1a1a"><rect x="211.05" y="26.90" width="2.9" height="20.70"/><path d="M209.15,28.00 Q211.05,28.00 211.05,30.60 L213.95,30.60 Q213.95,28.00 215.85,28.00 Z"/><path d="M209.15,46.50 Q211.05,46.50 211.05,43.90 L213.95,43.90 Q213.95,46.50 215.85,46.50 Z"/></g>
<text x="734.5" y="47.3" font-size="30" fill="#222222">npPt</text><rect x="798.1" y="39.2" width="8.0" height="2.8" fill="#222222"/>
<rect x="807.40" y="26.90" width="19.15" height="1.1" fill="#4a4a4a"/><rect x="807.40" y="46.50" width="19.15" height="1.1" fill="#4a4a4a"/><g fill="#1a1a1a"><rect x="810.35" y="26.90" width="2.9" height="20.70"/><path d="M808.45,28.00 Q810.35,28.00 810.35,30.60 L813.25,30.60 Q813.25,28.00 815.15,28.00 Z"/><path d="M808.45,46.50 Q810.35,46.50 810.35,43.90 L813.25,43.90 Q813.25,46.50 815.15,46.50 Z"/><rect x="820.70" y="26.90" width="2.9" height="20.70"/><path d="M818.80,28.00 Q820.70,28.00 820.70,30.60 L823.60,30.60 Q823.60,28.00 825.50,28.00 Z"/><path d="M818.80,46.50 Q820.70,46.50 820.70,43.90 L823.60,43.90 Q823.60,46.50 825.50,46.50 Z"/></g>
<text x="133.4" y="436.7" font-size="30" fill="#222222">npPt</text><rect x="197.0" y="428.5" width="7.6" height="2.8" fill="#222222"/>
<rect x="205.60" y="416.00" width="29.50" height="1.1" fill="#4a4a4a"/><rect x="205.60" y="435.50" width="29.50" height="1.1" fill="#4a4a4a"/><g fill="#1a1a1a"><rect x="208.55" y="416.00" width="2.9" height="20.60"/><path d="M206.65,417.10 Q208.55,417.10 208.55,419.70 L211.45,419.70 Q211.45,417.10 213.35,417.10 Z"/><path d="M206.65,435.50 Q208.55,435.50 208.55,432.90 L211.45,432.90 Q211.45,435.50 213.35,435.50 Z"/><rect x="218.90" y="416.00" width="2.9" height="20.60"/><path d="M217.00,417.10 Q218.90,417.10 218.90,419.70 L221.80,419.70 Q221.80,417.10 223.70,417.10 Z"/><path d="M217.00,435.50 Q218.90,435.50 218.90,432.90 L221.80,432.90 Q221.80,435.50 223.70,435.50 Z"/><rect x="229.25" y="416.00" width="2.9" height="20.60"/><path d="M227.35,417.10 Q229.25,417.10 229.25,419.70 L232.15,419.70 Q232.15,417.10 234.05,417.10 Z"/><path d="M227.35,435.50 Q229.25,435.50 229.25,432.90 L232.15,432.90 Q232.15,435.50 234.05,435.50 Z"/></g>
<text x="731.4" y="433.1" font-size="30" fill="#222222">Pt disk</text>
</svg></body></html>
